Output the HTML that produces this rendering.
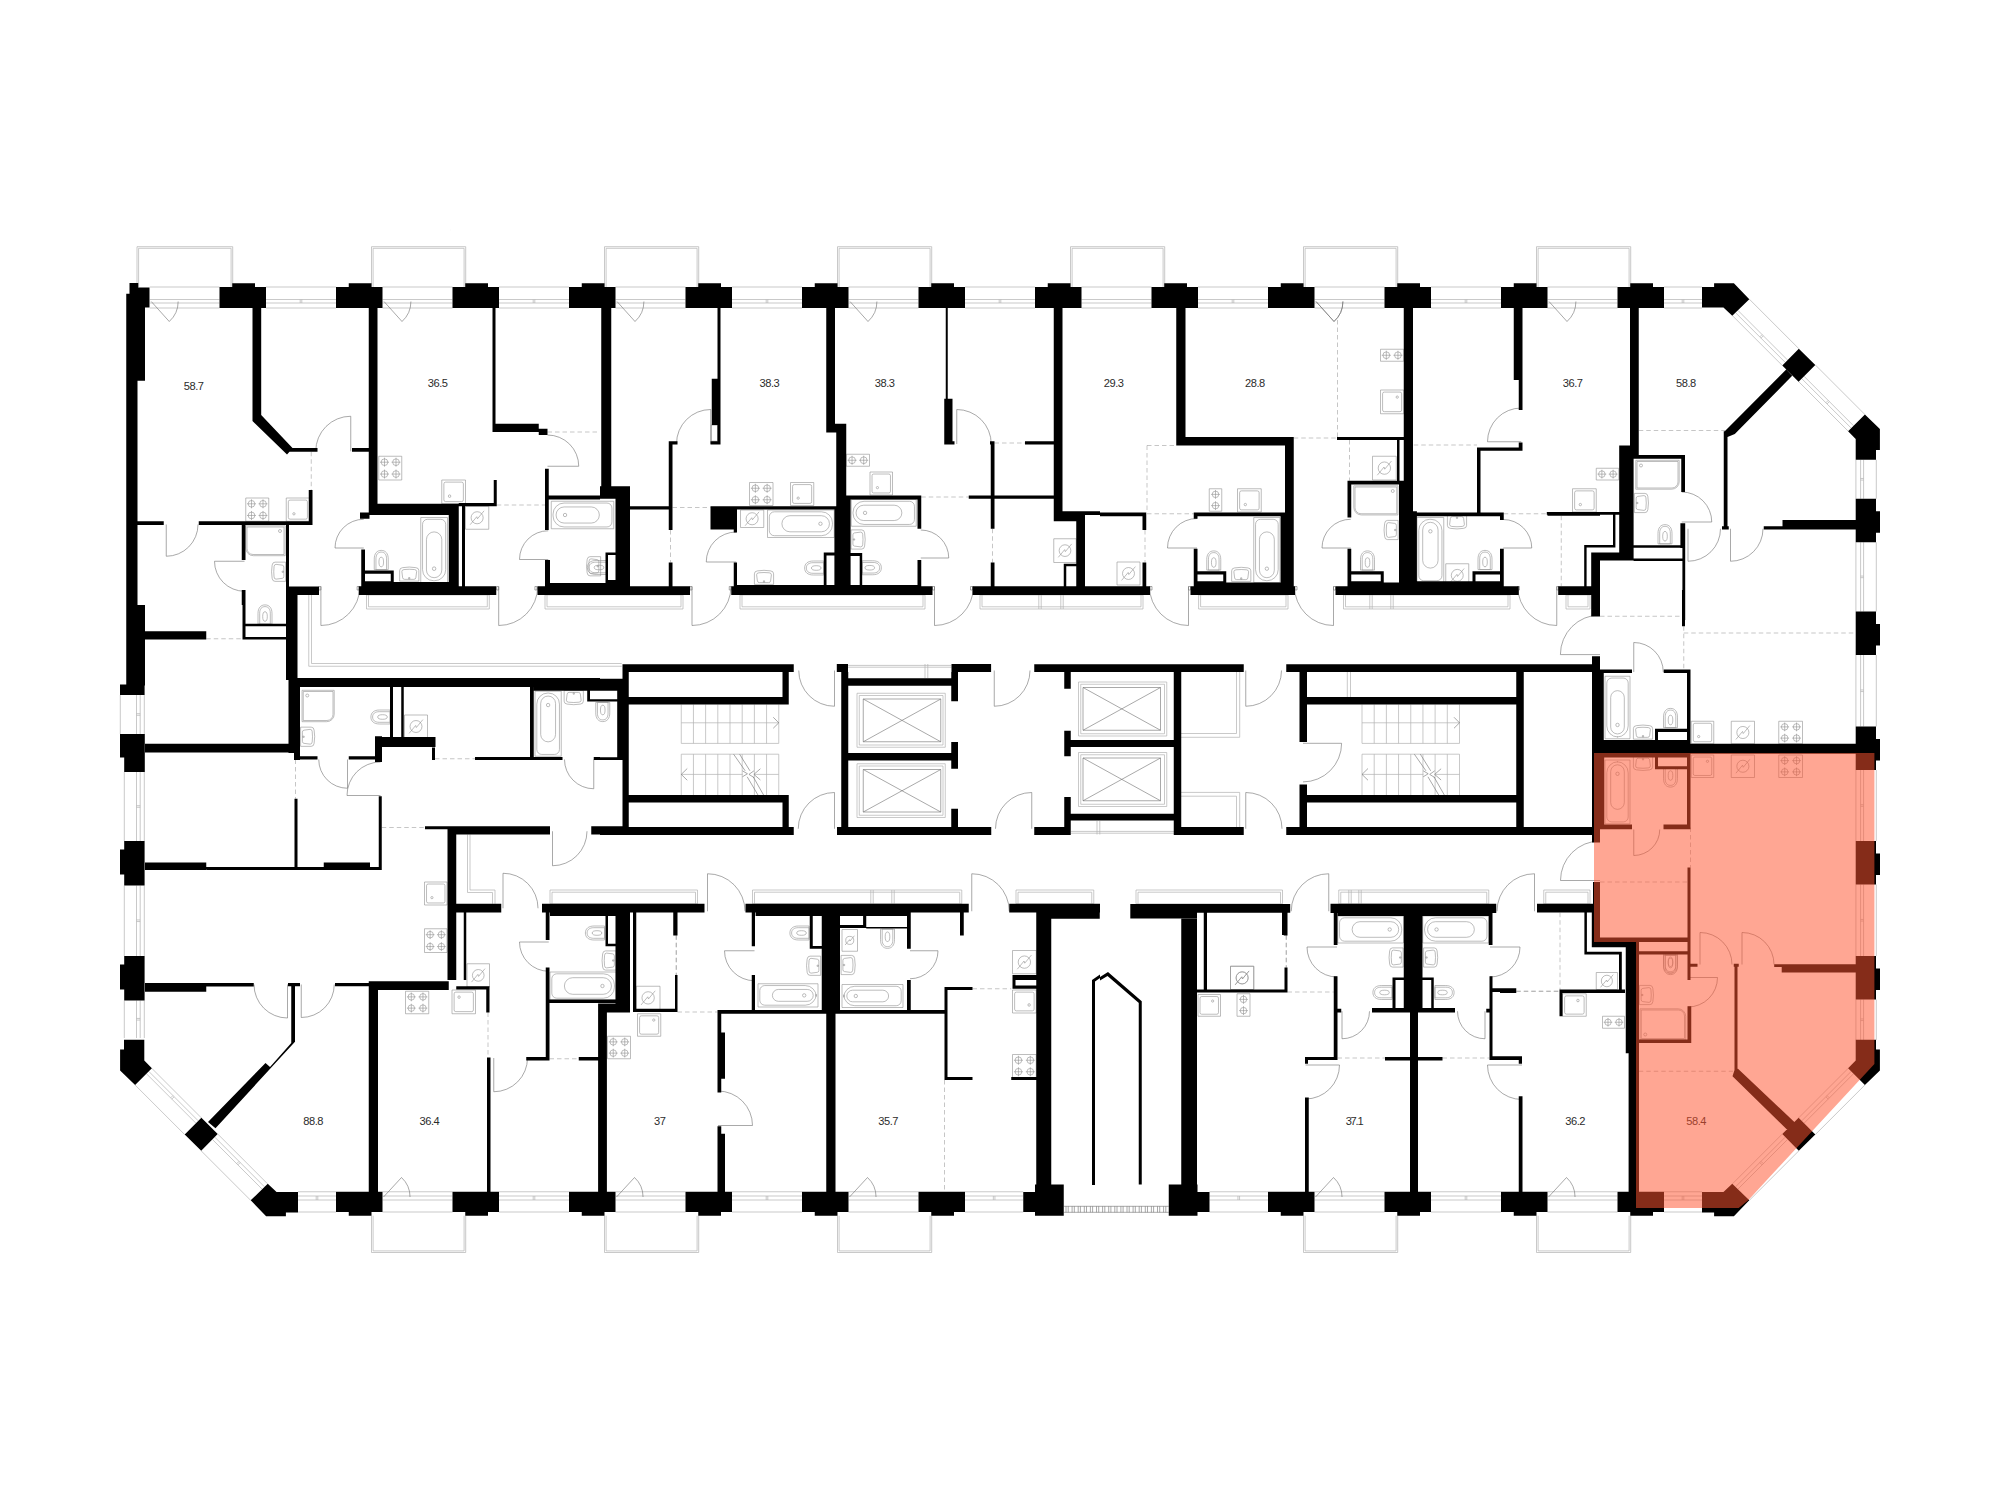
<!DOCTYPE html>
<html><head><meta charset="utf-8"><title>Floor plan</title>
<style>
html,body{margin:0;padding:0;background:#fff}
svg{display:block}
text{font-family:"Liberation Sans",sans-serif;font-size:11.1px;letter-spacing:-.4px}
.fx path{fill:none;stroke:#909090;stroke-width:.6}
</style></head><body>
<svg width="2000" height="1500" viewBox="0 0 2000 1500">
<rect width="2000" height="1500" fill="#fff"/>
<path d="M308.75 595L308.75 666.25L621.75 666.25M311.5 595L311.5 663.5L621.75 663.5M467.5 834.5L467.5 892.5L492.5 892.5L492.5 903.75M470 834.5L470 890L495 890L495 903.75M848 665.4L951.5 665.4M848 667.2L951.5 667.2M925 664L925 678M927.8 664L927.8 678M1070.8 833.2L1174.1 833.2M1070.8 831.4L1174.1 831.4M1097 821L1097 834.5M1099.8 821L1099.8 834.5M681.25 704.5L681.25 743.4M693.44 704.5L693.44 743.4M705.62 704.5L705.62 743.4M717.81 704.5L717.81 743.4M730 704.5L730 743.4M742.19 704.5L742.19 743.4M754.38 704.5L754.38 743.4M766.56 704.5L766.56 743.4M778.75 704.5L778.75 743.4M681.25 743.4L778.75 743.4M681.25 722.8L778.75 722.8M681.25 754.2L681.25 795M693.44 754.2L693.44 795M705.62 754.2L705.62 795M717.81 754.2L717.81 795M730 754.2L730 795M742.19 754.2L742.19 795M754.38 754.2L754.38 795M766.56 754.2L766.56 795M778.75 754.2L778.75 795M681.25 754.2L778.75 754.2M681.25 774.4L742.69 774.4M754.38 774.4L778.75 774.4M857 693.25H945.25V747.25H857ZM859.25 695.5H943V745H859.25ZM857 763.75H945.25V817.5H857ZM859.25 766H943V815.25H859.25ZM1078.5 682H1166.75V736H1078.5ZM1080.75 684.25H1164.5V733.75H1080.75ZM1078.5 752.5H1166.75V806.5H1078.5ZM1080.75 754.75H1164.5V804.25H1080.75ZM1181 733.5L1236.5 733.5L1236.5 672M1181 737.3L1239.7 737.3L1239.7 672M1181 796.2L1236.5 796.2L1236.5 827.2M1181 792.4L1239.7 792.4L1239.7 827.2M1347.3 672L1347.3 697M1350.5 672L1350.5 697M1362 704.5L1362 743.4M1374.19 704.5L1374.19 743.4M1386.38 704.5L1386.38 743.4M1398.56 704.5L1398.56 743.4M1410.75 704.5L1410.75 743.4M1422.94 704.5L1422.94 743.4M1435.12 704.5L1435.12 743.4M1447.31 704.5L1447.31 743.4M1459.5 704.5L1459.5 743.4M1362 743.4L1459.5 743.4M1362 722.8L1459.5 722.8M1362 754.2L1362 795M1374.19 754.2L1374.19 795M1386.38 754.2L1386.38 795M1398.56 754.2L1398.56 795M1410.75 754.2L1410.75 795M1422.94 754.2L1422.94 795M1435.12 754.2L1435.12 795M1447.31 754.2L1447.31 795M1459.5 754.2L1459.5 795M1362 754.2L1459.5 754.2M1362 774.4L1423.44 774.4M1435.12 774.4L1459.5 774.4M137 287L137 246.7L232.7 246.7L232.7 287M138.6 287L138.6 248.3L231.1 248.3L231.1 287M371.5 287L371.5 246.7L465.7 246.7L465.7 287M373.1 287L373.1 248.3L464.1 248.3L464.1 287M604.5 287L604.5 246.7L698.7 246.7L698.7 287M606.1 287L606.1 248.3L697.1 248.3L697.1 287M837.5 287L837.5 246.7L931.7 246.7L931.7 287M839.1 287L839.1 248.3L930.1 248.3L930.1 287M1070.5 287L1070.5 246.7L1164.7 246.7L1164.7 287M1072.1 287L1072.1 248.3L1163.1 248.3L1163.1 287M1303.5 287L1303.5 246.7L1397.7 246.7L1397.7 287M1305.1 287L1305.1 248.3L1396.1 248.3L1396.1 287M1536.5 287L1536.5 246.7L1630.7 246.7L1630.7 287M1538.1 287L1538.1 248.3L1629.1 248.3L1629.1 287M371.5 1215.75L371.5 1252.5L465.7 1252.5L465.7 1215.75M373.1 1215.75L373.1 1250.9L464.1 1250.9L464.1 1215.75M604.5 1215.75L604.5 1252.5L698.7 1252.5L698.7 1215.75M606.1 1215.75L606.1 1250.9L697.1 1250.9L697.1 1215.75M837.5 1215.75L837.5 1252.5L931.7 1252.5L931.7 1215.75M839.1 1215.75L839.1 1250.9L930.1 1250.9L930.1 1215.75M1303.5 1215.75L1303.5 1252.5L1397.7 1252.5L1397.7 1215.75M1305.1 1215.75L1305.1 1250.9L1396.1 1250.9L1396.1 1215.75M1536.5 1215.75L1536.5 1252.5L1630.7 1252.5L1630.7 1215.75M1538.1 1215.75L1538.1 1250.9L1629.1 1250.9L1629.1 1215.75M149.75 287L219.5 287M149.75 299.5L219.5 299.5M149.75 303L219.5 303M149.75 308L219.5 308M266 287L336 287M266 299.5L336 299.5M266 303L336 303M266 308L336 308M300.2 299.5L300.2 303M301.8 299.5L301.8 303M382.5 287L452.5 287M382.5 299.5L452.5 299.5M382.5 303L452.5 303M382.5 308L452.5 308M499 287L569 287M499 299.5L569 299.5M499 303L569 303M499 308L569 308M533.2 299.5L533.2 303M534.8 299.5L534.8 303M615.5 287L685.5 287M615.5 299.5L685.5 299.5M615.5 303L685.5 303M615.5 308L685.5 308M732 287L802 287M732 299.5L802 299.5M732 303L802 303M732 308L802 308M766.2 299.5L766.2 303M767.8 299.5L767.8 303M848.5 287L918.5 287M848.5 299.5L918.5 299.5M848.5 303L918.5 303M848.5 308L918.5 308M965 287L1035 287M965 299.5L1035 299.5M965 303L1035 303M965 308L1035 308M999.2 299.5L999.2 303M1000.8 299.5L1000.8 303M1081.5 287L1151.5 287M1081.5 299.5L1151.5 299.5M1081.5 303L1151.5 303M1081.5 308L1151.5 308M1198 287L1268 287M1198 299.5L1268 299.5M1198 303L1268 303M1198 308L1268 308M1232.2 299.5L1232.2 303M1233.8 299.5L1233.8 303M1314.5 287L1384.5 287M1314.5 299.5L1384.5 299.5M1314.5 303L1384.5 303M1314.5 308L1384.5 308M1431 287L1501 287M1431 299.5L1501 299.5M1431 303L1501 303M1431 308L1501 308M1465.2 299.5L1465.2 303M1466.8 299.5L1466.8 303M1547.5 287L1617.5 287M1547.5 299.5L1617.5 299.5M1547.5 303L1617.5 303M1547.5 308L1617.5 308M1664 287L1702 287M1664 299.5L1702 299.5M1664 303L1702 303M1664 308L1702 308M1682.2 299.5L1682.2 303M1683.8 299.5L1683.8 303M298 1191.75L336 1191.75M298 1196L336 1196M298 1200L336 1200M298 1212L336 1212M316.2 1196L316.2 1200M317.8 1196L317.8 1200M382.5 1191.75L452.5 1191.75M382.5 1196L452.5 1196M382.5 1200L452.5 1200M382.5 1212L452.5 1212M499 1191.75L569 1191.75M499 1196L569 1196M499 1200L569 1200M499 1212L569 1212M533.2 1196L533.2 1200M534.8 1196L534.8 1200M615.5 1191.75L685.5 1191.75M615.5 1196L685.5 1196M615.5 1200L685.5 1200M615.5 1212L685.5 1212M732 1191.75L802 1191.75M732 1196L802 1196M732 1200L802 1200M732 1212L802 1212M766.2 1196L766.2 1200M767.8 1196L767.8 1200M848.5 1191.75L918.5 1191.75M848.5 1196L918.5 1196M848.5 1200L918.5 1200M848.5 1212L918.5 1212M965 1191.75L1023.25 1191.75M965 1196L1023.25 1196M965 1200L1023.25 1200M965 1212L1023.25 1212M993.33 1196L993.33 1200M994.93 1196L994.93 1200M1209.5 1191.75L1268 1191.75M1209.5 1196L1268 1196M1209.5 1200L1268 1200M1209.5 1212L1268 1212M1237.95 1196L1237.95 1200M1239.55 1196L1239.55 1200M1314.5 1191.75L1384.5 1191.75M1314.5 1196L1384.5 1196M1314.5 1200L1384.5 1200M1314.5 1212L1384.5 1212M1431 1191.75L1501 1191.75M1431 1196L1501 1196M1431 1200L1501 1200M1431 1212L1501 1212M1465.2 1196L1465.2 1200M1466.8 1196L1466.8 1200M1547.5 1191.75L1617.5 1191.75M1547.5 1196L1617.5 1196M1547.5 1200L1617.5 1200M1547.5 1212L1617.5 1212M1664 1191.75L1702 1191.75M1664 1196L1702 1196M1664 1200L1702 1200M1664 1212L1702 1212M1682.2 1196L1682.2 1200M1683.8 1196L1683.8 1200M1855.9 459.8L1855.9 498.75M1860.6 459.8L1860.6 498.75M1863.6 459.8L1863.6 498.75M1876.3 459.8L1876.3 498.75M1860.6 478.47L1863.6 478.47M1860.6 480.07L1863.6 480.07M1855.9 542.25L1855.9 611.5M1860.6 542.25L1860.6 611.5M1863.6 542.25L1863.6 611.5M1876.3 542.25L1876.3 611.5M1860.6 576.08L1863.6 576.08M1860.6 577.67L1863.6 577.67M1855.9 655L1855.9 726.5M1860.6 655L1860.6 726.5M1863.6 655L1863.6 726.5M1876.3 655L1876.3 726.5M1860.6 689.95L1863.6 689.95M1860.6 691.55L1863.6 691.55M1855.9 770L1855.9 841M1860.6 770L1860.6 841M1863.6 770L1863.6 841M1876.3 770L1876.3 841M1860.6 804.7L1863.6 804.7M1860.6 806.3L1863.6 806.3M1855.9 884.5L1855.9 956M1860.6 884.5L1860.6 956M1863.6 884.5L1863.6 956M1876.3 884.5L1876.3 956M1860.6 919.45L1863.6 919.45M1860.6 921.05L1863.6 921.05M1855.9 999.5L1855.9 1040M1860.6 999.5L1860.6 1040M1863.6 999.5L1863.6 1040M1876.3 999.5L1876.3 1040M1860.6 1018.95L1863.6 1018.95M1860.6 1020.55L1863.6 1020.55M120.3 695L120.3 734M136.5 695L136.5 734M140.2 695L140.2 734M144.3 695L144.3 734M136.5 713.7L140.2 713.7M136.5 715.3L140.2 715.3M124.3 772L124.3 841M136.5 772L136.5 841M140.2 772L140.2 841M144.3 772L144.3 841M136.5 805.7L140.2 805.7M136.5 807.3L140.2 807.3M124.3 885.5L124.3 956M136.5 885.5L136.5 956M140.2 885.5L140.2 956M144.3 885.5L144.3 956M136.5 919.95L140.2 919.95M136.5 921.55L140.2 921.55M124.3 1000.5L124.3 1038M136.5 1000.5L136.5 1038M140.2 1000.5L140.2 1038M144.3 1000.5L144.3 1038M136.5 1018.45L140.2 1018.45M136.5 1020.05L140.2 1020.05M1749.3 299.15L1798.8 348.65M1737.99 310.46L1787.49 359.96M1735.65 312.8L1785.15 362.3M1732.61 315.84L1782.11 365.34M1762.14 334.61L1759.8 336.95M1763.34 335.81L1761 338.15M1815.3 364.9L1864.9 414.5M1803.99 376.21L1853.59 425.81M1801.65 378.55L1851.25 428.15M1798.61 381.59L1848.21 431.19M1828.19 400.41L1825.85 402.75M1829.39 401.61L1827.05 403.95M1749.3 1200.35L1798.8 1150.85M1737.99 1189.04L1787.49 1139.54M1735.65 1186.7L1785.15 1137.2M1732.61 1183.66L1782.11 1134.16M1762.14 1164.89L1759.8 1162.55M1763.34 1163.69L1761 1161.35M1815.3 1134.6L1864.9 1085M1803.99 1123.29L1853.59 1073.69M1801.65 1120.95L1851.25 1071.35M1798.61 1117.91L1848.21 1068.31M1828.19 1099.09L1825.85 1096.75M1829.39 1097.89L1827.05 1095.55M250.7 1200.35L201.2 1150.85M262.01 1189.04L212.51 1139.54M264.35 1186.7L214.85 1137.2M267.39 1183.66L217.89 1134.16M237.86 1164.89L240.2 1162.55M236.66 1163.69L239 1161.35M184.7 1134.6L135.1 1085M196.01 1123.29L146.41 1073.69M198.35 1120.95L148.75 1071.35M201.39 1117.91L151.79 1068.31M171.81 1099.09L174.15 1096.75M170.61 1097.89L172.95 1095.55M366.5 595H489.3V609H366.5ZM368.5 595L368.5 606.8L487.3 606.8L487.3 595M545 595H683V609H545ZM547 595L547 606.8L681 606.8L681 595M740 595H925V609H740ZM742 595L742 606.8L923 606.8L923 595M980 595H1143V609H980ZM982 595L982 606.8L1141 606.8L1141 595M1038.8 595L1038.8 609M1041.2 595L1041.2 609M1060.8 595L1060.8 609M1063.2 595L1063.2 609M1198.6 595H1288V609H1198.6ZM1200.6 595L1200.6 606.8L1286 606.8L1286 595M1343.5 595H1510V609H1343.5ZM1345.5 595L1345.5 606.8L1508 606.8L1508 595M1369.8 595L1369.8 609M1372.2 595L1372.2 609M1390.8 595L1390.8 609M1393.2 595L1393.2 609M1566 595H1590V609H1566ZM1568 595L1568 606.8L1588 606.8L1588 595M550 890H697.5V903.75H550ZM552 903.75L552 892.2L695.5 892.2L695.5 903.75M752.5 890H961.75V903.75H752.5ZM754.5 903.75L754.5 892.2L959.75 892.2L959.75 903.75M870.8 890L870.8 903.75M873.2 890L873.2 903.75M891.8 890L891.8 903.75M894.2 890L894.2 903.75M1016 890H1093.75V903.75H1016ZM1018 903.75L1018 892.2L1091.75 892.2L1091.75 903.75M1136 890H1282.5V903.75H1136ZM1138 903.75L1138 892.2L1280.5 892.2L1280.5 903.75M1338.75 890H1488.75V903.75H1338.75ZM1340.75 903.75L1340.75 892.2L1486.75 892.2L1486.75 903.75M1348.8 890L1348.8 903.75M1351.2 890L1351.2 903.75M1358.8 890L1358.8 903.75M1361.2 890L1361.2 903.75M1543.75 890H1590V903.75H1543.75ZM1545.75 903.75L1545.75 892.2L1588 892.2L1588 903.75" fill="none" stroke="#b2b2b2" stroke-width=".7"/>
<path d="M378.75 456.25H401.75V480H378.75ZM381.17 462.19A3.33 3.33 0 1 0 387.83 462.19A3.33 3.33 0 1 0 381.17 462.19ZM380 462.19L389 462.19M384.5 457.69L384.5 466.69M381.17 474.06A3.33 3.33 0 1 0 387.83 474.06A3.33 3.33 0 1 0 381.17 474.06ZM380 474.06L389 474.06M384.5 469.56L384.5 478.56M392.67 462.19A3.33 3.33 0 1 0 399.33 462.19A3.33 3.33 0 1 0 392.67 462.19ZM391.5 462.19L400.5 462.19M396 457.69L396 466.69M392.67 474.06A3.33 3.33 0 1 0 399.33 474.06A3.33 3.33 0 1 0 392.67 474.06ZM391.5 474.06L400.5 474.06M396 469.56L396 478.56M441.75 480H465.5V503.75H441.75ZM445.6 482.14H461.65A1.71 1.71 0 0 1 463.36 483.85V499.9A1.71 1.71 0 0 1 461.65 501.61H445.6A1.71 1.71 0 0 1 443.89 499.9V483.85A1.71 1.71 0 0 1 445.6 482.14ZM448.4 496.15A1.19 1.19 0 1 0 450.77 496.15A1.19 1.19 0 1 0 448.4 496.15ZM465.5 506.25H488.75V529.25H465.5ZM471.08 517.75A6.04 6.04 0 1 0 483.17 517.75A6.04 6.04 0 1 0 471.08 517.75ZM470.17 524.7L476.78 516.71L477.47 518.79L484.08 510.8M420.75 517.5H447.5V582.5H420.75ZM427.55 519.3H440.7A5 5 0 0 1 445.7 524.3V569.7A11 11 0 0 1 434.7 580.7H433.55A11 11 0 0 1 422.55 569.7V524.3A5 5 0 0 1 427.55 519.3ZM434.12 531.9H434.12A7.67 7.67 0 0 1 441.8 539.57V570.03A7.67 7.67 0 0 1 434.12 577.7H434.12A7.67 7.67 0 0 1 426.45 570.03V539.57A7.67 7.67 0 0 1 434.12 531.9ZM432.43 568.7A1.7 1.7 0 1 0 435.82 568.7A1.7 1.7 0 1 0 432.43 568.7ZM245.75 498H268.75V521.25H245.75ZM248.16 503.81A3.33 3.33 0 1 0 254.84 503.81A3.33 3.33 0 1 0 248.16 503.81ZM247 503.81L256 503.81M251.5 499.31L251.5 508.31M248.16 515.44A3.33 3.33 0 1 0 254.84 515.44A3.33 3.33 0 1 0 248.16 515.44ZM247 515.44L256 515.44M251.5 510.94L251.5 519.94M259.67 503.81A3.33 3.33 0 1 0 266.33 503.81A3.33 3.33 0 1 0 259.67 503.81ZM258.5 503.81L267.5 503.81M263 499.31L263 508.31M259.67 515.44A3.33 3.33 0 1 0 266.33 515.44A3.33 3.33 0 1 0 259.67 515.44ZM258.5 515.44L267.5 515.44M263 510.94L263 519.94M286.25 498H309.5V521.25H286.25ZM290.02 500.09H305.73A1.67 1.67 0 0 1 307.41 501.77V517.48A1.67 1.67 0 0 1 305.73 519.16H290.02A1.67 1.67 0 0 1 288.34 517.48V501.77A1.67 1.67 0 0 1 290.02 500.09ZM292.76 513.81A1.16 1.16 0 1 0 295.09 513.81A1.16 1.16 0 1 0 292.76 513.81ZM245.8 525.8H285.2V555.7H253.3A7.5 7.5 0 0 1 245.8 548.2ZM247 527H284V554.5H253A6 6 0 0 1 247 548.5ZM278.5 531A1.5 1.5 0 1 0 281.5 531A1.5 1.5 0 1 0 278.5 531ZM551.25 501.25H613.75V528.75H551.25ZM564.05 503.05H606.95A5 5 0 0 1 611.95 508.05V521.95A5 5 0 0 1 606.95 526.95H564.05A11 11 0 0 1 553.05 515.95V514.05A11 11 0 0 1 564.05 503.05ZM564.1 506.95H591.3A8.05 8.05 0 0 1 599.35 515V515A8.05 8.05 0 0 1 591.3 523.05H564.1A8.05 8.05 0 0 1 556.05 515V515A8.05 8.05 0 0 1 564.1 506.95ZM563.35 515A1.7 1.7 0 1 0 566.75 515A1.7 1.7 0 1 0 563.35 515ZM749.5 482.5H773V505.5H749.5ZM752.04 488.25A3.33 3.33 0 1 0 758.71 488.25A3.33 3.33 0 1 0 752.04 488.25ZM750.87 488.25L759.88 488.25M755.38 483.75L755.38 492.75M752.04 499.75A3.33 3.33 0 1 0 758.71 499.75A3.33 3.33 0 1 0 752.04 499.75ZM750.87 499.75L759.88 499.75M755.38 495.25L755.38 504.25M763.79 488.25A3.33 3.33 0 1 0 770.46 488.25A3.33 3.33 0 1 0 763.79 488.25ZM762.62 488.25L771.63 488.25M767.12 483.75L767.12 492.75M763.79 499.75A3.33 3.33 0 1 0 770.46 499.75A3.33 3.33 0 1 0 763.79 499.75ZM762.62 499.75L771.63 499.75M767.12 495.25L767.12 504.25M790.5 482.5H813.75V505.5H790.5ZM794.27 484.59H809.98A1.67 1.67 0 0 1 811.66 486.27V501.73A1.67 1.67 0 0 1 809.98 503.41H794.27A1.67 1.67 0 0 1 792.59 501.73V486.27A1.67 1.67 0 0 1 794.27 484.59ZM797.01 498.14A1.16 1.16 0 1 0 799.34 498.14A1.16 1.16 0 1 0 797.01 498.14ZM740.5 510H763.75V527.5H740.5ZM746.08 518.75A6.04 6.04 0 1 0 758.17 518.75A6.04 6.04 0 1 0 746.08 518.75ZM745.17 525.7L751.78 517.71L752.47 519.79L759.08 511.8M767.5 510H834.25V537.5H767.5ZM774.3 511.8H821.45A11 11 0 0 1 832.45 522.8V524.7A11 11 0 0 1 821.45 535.7H774.3A5 5 0 0 1 769.3 530.7V516.8A5 5 0 0 1 774.3 511.8ZM789.95 515.7H821.4A8.05 8.05 0 0 1 829.45 523.75V523.75A8.05 8.05 0 0 1 821.4 531.8H789.95A8.05 8.05 0 0 1 781.9 523.75V523.75A8.05 8.05 0 0 1 789.95 515.7ZM818.75 523.75A1.7 1.7 0 1 0 822.15 523.75A1.7 1.7 0 1 0 818.75 523.75ZM846.25 454.25H869.5V466.25H846.25ZM848.69 460.25A3.37 3.37 0 1 0 855.43 460.25A3.37 3.37 0 1 0 848.69 460.25ZM847.51 460.25L856.61 460.25M852.06 455.7L852.06 464.8M860.32 460.25A3.37 3.37 0 1 0 867.06 460.25A3.37 3.37 0 1 0 860.32 460.25ZM859.14 460.25L868.24 460.25M863.69 455.7L863.69 464.8M870 472H892.5V495H870ZM873.64 474.02H888.86A1.62 1.62 0 0 1 890.48 475.64V491.36A1.62 1.62 0 0 1 888.86 492.98H873.64A1.62 1.62 0 0 1 872.02 491.36V475.64A1.62 1.62 0 0 1 873.64 474.02ZM876.3 487.64A1.12 1.12 0 1 0 878.55 487.64A1.12 1.12 0 1 0 876.3 487.64ZM851.25 499.5H916.25V526.25H851.25ZM864.05 501.3H909.45A5 5 0 0 1 914.45 506.3V519.45A5 5 0 0 1 909.45 524.45H864.05A11 11 0 0 1 853.05 513.45V512.3A11 11 0 0 1 864.05 501.3ZM863.72 505.2H894.18A7.67 7.67 0 0 1 901.85 512.88V512.88A7.67 7.67 0 0 1 894.18 520.55H863.72A7.67 7.67 0 0 1 856.05 512.88V512.88A7.67 7.67 0 0 1 863.72 505.2ZM863.35 512.88A1.7 1.7 0 1 0 866.75 512.88A1.7 1.7 0 1 0 863.35 512.88ZM1053.75 538.75H1076.25V562.5H1053.75ZM1059.15 550.62A5.85 5.85 0 1 0 1070.85 550.62A5.85 5.85 0 1 0 1059.15 550.62ZM1058.27 557.35L1064.66 549.62L1065.34 551.63L1071.73 543.9M1117 562H1140V585H1117ZM1122.52 573.5A5.98 5.98 0 1 0 1134.48 573.5A5.98 5.98 0 1 0 1122.52 573.5ZM1121.62 580.38L1128.16 572.47L1128.84 574.53L1135.38 566.62M1209.25 488.75H1221.75V511.25H1209.25ZM1212.24 494.38A3.26 3.26 0 1 0 1218.76 494.38A3.26 3.26 0 1 0 1212.24 494.38ZM1211.1 494.38L1219.9 494.38M1215.5 489.97L1215.5 498.78M1212.24 505.62A3.26 3.26 0 1 0 1218.76 505.62A3.26 3.26 0 1 0 1212.24 505.62ZM1211.1 505.62L1219.9 505.62M1215.5 501.22L1215.5 510.03M1237.5 488.75H1261.25V512H1237.5ZM1241.35 490.89H1257.4A1.71 1.71 0 0 1 1259.11 492.6V508.15A1.71 1.71 0 0 1 1257.4 509.86H1241.35A1.71 1.71 0 0 1 1239.64 508.15V492.6A1.71 1.71 0 0 1 1241.35 490.89ZM1244.15 504.56A1.19 1.19 0 1 0 1246.53 504.56A1.19 1.19 0 1 0 1244.15 504.56ZM1253.75 517.5H1280V582.5H1253.75ZM1260.55 519.3H1273.2A5 5 0 0 1 1278.2 524.3V569.7A11 11 0 0 1 1267.2 580.7H1266.55A11 11 0 0 1 1255.55 569.7V524.3A5 5 0 0 1 1260.55 519.3ZM1266.88 531.9H1266.88A7.42 7.42 0 0 1 1274.3 539.32V570.28A7.42 7.42 0 0 1 1266.88 577.7H1266.88A7.42 7.42 0 0 1 1259.45 570.28V539.32A7.42 7.42 0 0 1 1266.88 531.9ZM1265.17 568.7A1.7 1.7 0 1 0 1268.58 568.7A1.7 1.7 0 1 0 1265.17 568.7ZM1380.5 349.25H1403.75V361.25H1380.5ZM1382.94 355.25A3.37 3.37 0 1 0 1389.68 355.25A3.37 3.37 0 1 0 1382.94 355.25ZM1381.76 355.25L1390.86 355.25M1386.31 350.7L1386.31 359.8M1394.57 355.25A3.37 3.37 0 1 0 1401.31 355.25A3.37 3.37 0 1 0 1394.57 355.25ZM1393.39 355.25L1402.49 355.25M1397.94 350.7L1397.94 359.8M1380.5 390H1403.75V413.75H1380.5ZM1384.27 392.09H1399.98A1.67 1.67 0 0 1 1401.66 393.77V409.98A1.67 1.67 0 0 1 1399.98 411.66H1384.27A1.67 1.67 0 0 1 1382.59 409.98V393.77A1.67 1.67 0 0 1 1384.27 392.09ZM1396.08 397.12A1.16 1.16 0 1 0 1398.4 397.12A1.16 1.16 0 1 0 1396.08 397.12ZM1372.5 456.25H1396.25V480H1372.5ZM1378.2 468.12A6.17 6.17 0 1 0 1390.55 468.12A6.17 6.17 0 1 0 1378.2 468.12ZM1377.27 475.23L1384.02 467.06L1384.73 469.19L1391.48 461.02M1353.8 485.8H1397.95V514.95H1361.3A7.5 7.5 0 0 1 1353.8 507.45ZM1355 487H1396.75V513.75H1361A6 6 0 0 1 1355 507.75ZM1391.25 491A1.5 1.5 0 1 0 1394.25 491A1.5 1.5 0 1 0 1391.25 491ZM1417 517.5H1443.75V582.5H1417ZM1429.8 519.3H1430.95A11 11 0 0 1 1441.95 530.3V575.7A5 5 0 0 1 1436.95 580.7H1423.8A5 5 0 0 1 1418.8 575.7V530.3A11 11 0 0 1 1429.8 519.3ZM1430.38 522.3H1430.38A7.67 7.67 0 0 1 1438.05 529.97V560.43A7.67 7.67 0 0 1 1430.38 568.1H1430.38A7.67 7.67 0 0 1 1422.7 560.43V529.97A7.67 7.67 0 0 1 1430.38 522.3ZM1428.67 531.3A1.7 1.7 0 1 0 1432.08 531.3A1.7 1.7 0 1 0 1428.67 531.3ZM1445.75 563.75H1468.75V587H1445.75ZM1451.27 575.38A5.98 5.98 0 1 0 1463.23 575.38A5.98 5.98 0 1 0 1451.27 575.38ZM1450.37 582.25L1456.91 574.34L1457.59 576.41L1464.13 568.5M1596.25 468.25H1618.75V480H1596.25ZM1598.61 474.12A3.26 3.26 0 1 0 1605.14 474.12A3.26 3.26 0 1 0 1598.61 474.12ZM1597.47 474.12L1606.28 474.12M1601.88 469.72L1601.88 478.53M1609.86 474.12A3.26 3.26 0 1 0 1616.39 474.12A3.26 3.26 0 1 0 1609.86 474.12ZM1608.72 474.12L1617.53 474.12M1613.12 469.72L1613.12 478.53M1572.5 488.75H1596.25V512H1572.5ZM1576.35 490.89H1592.4A1.71 1.71 0 0 1 1594.11 492.6V508.15A1.71 1.71 0 0 1 1592.4 509.86H1576.35A1.71 1.71 0 0 1 1574.64 508.15V492.6A1.71 1.71 0 0 1 1576.35 490.89ZM1579.15 504.56A1.19 1.19 0 1 0 1581.53 504.56A1.19 1.19 0 1 0 1579.15 504.56ZM1635.8 460.3H1679.2V481.7A7.5 7.5 0 0 1 1671.7 489.2H1635.8ZM1637 461.5H1678V482A6 6 0 0 1 1672 488H1637ZM1639.5 465.5A1.5 1.5 0 1 0 1642.5 465.5A1.5 1.5 0 1 0 1639.5 465.5ZM302.05 690.3H334.2V714.2A7.5 7.5 0 0 1 326.7 721.7H302.05ZM303.25 691.5H333V714.5A6 6 0 0 1 327 720.5H303.25ZM305.75 695.5A1.5 1.5 0 1 0 308.75 695.5A1.5 1.5 0 1 0 305.75 695.5ZM404.5 715H427.5V738H404.5ZM410.02 726.5A5.98 5.98 0 1 0 421.98 726.5A5.98 5.98 0 1 0 410.02 726.5ZM409.12 733.38L415.66 725.47L416.34 727.53L422.88 719.62M535 691.25H561.25V756.25H535ZM547.8 693.05H548.45A11 11 0 0 1 559.45 704.05V749.45A5 5 0 0 1 554.45 754.45H541.8A5 5 0 0 1 536.8 749.45V704.05A11 11 0 0 1 547.8 693.05ZM548.12 696.05H548.12A7.42 7.42 0 0 1 555.55 703.47V734.43A7.42 7.42 0 0 1 548.12 741.85H548.12A7.42 7.42 0 0 1 540.7 734.43V703.47A7.42 7.42 0 0 1 548.12 696.05ZM546.42 705.05A1.7 1.7 0 1 0 549.83 705.05A1.7 1.7 0 1 0 546.42 705.05ZM424.5 882H447V905H424.5ZM428.14 884.02H443.36A1.62 1.62 0 0 1 444.98 885.64V901.36A1.62 1.62 0 0 1 443.36 902.98H428.14A1.62 1.62 0 0 1 426.52 901.36V885.64A1.62 1.62 0 0 1 428.14 884.02ZM430.8 897.64A1.12 1.12 0 1 0 433.05 897.64A1.12 1.12 0 1 0 430.8 897.64ZM424.5 928.75H447V952.5H424.5ZM426.86 934.69A3.26 3.26 0 1 0 433.39 934.69A3.26 3.26 0 1 0 426.86 934.69ZM425.72 934.69L434.53 934.69M430.12 930.28L430.12 939.09M426.86 946.56A3.26 3.26 0 1 0 433.39 946.56A3.26 3.26 0 1 0 426.86 946.56ZM425.72 946.56L434.53 946.56M430.12 942.16L430.12 950.97M438.11 934.69A3.26 3.26 0 1 0 444.64 934.69A3.26 3.26 0 1 0 438.11 934.69ZM436.97 934.69L445.78 934.69M441.38 930.28L441.38 939.09M438.11 946.56A3.26 3.26 0 1 0 444.64 946.56A3.26 3.26 0 1 0 438.11 946.56ZM436.97 946.56L445.78 946.56M441.38 942.16L441.38 950.97M467 963.75H489.5V987H467ZM472.4 975.38A5.85 5.85 0 1 0 484.1 975.38A5.85 5.85 0 1 0 472.4 975.38ZM471.52 982.1L477.91 974.37L478.59 976.38L484.98 968.65M842 929.5H857.5V951.25H842ZM845.72 940.38A4.03 4.03 0 1 0 853.78 940.38A4.03 4.03 0 1 0 845.72 940.38ZM845.12 945.01L849.52 939.68L849.98 941.07L854.38 935.74M1012.5 950.5H1036.25V973.75H1012.5ZM1018.2 962.12A6.17 6.17 0 1 0 1030.55 962.12A6.17 6.17 0 1 0 1018.2 962.12ZM1017.27 969.23L1024.02 961.06L1024.73 963.19L1031.48 955.02M1337.75 916H1403.5V943H1337.75ZM1344.55 917.8H1390.7A11 11 0 0 1 1401.7 928.8V930.2A11 11 0 0 1 1390.7 941.2H1344.55A5 5 0 0 1 1339.55 936.2V922.8A5 5 0 0 1 1344.55 917.8ZM1359.95 921.7H1390.9A7.8 7.8 0 0 1 1398.7 929.5V929.5A7.8 7.8 0 0 1 1390.9 937.3H1359.95A7.8 7.8 0 0 1 1352.15 929.5V929.5A7.8 7.8 0 0 1 1359.95 921.7ZM1388 929.5A1.7 1.7 0 1 0 1391.4 929.5A1.7 1.7 0 1 0 1388 929.5ZM1422.75 916H1488.75V943H1422.75ZM1435.55 917.8H1481.95A5 5 0 0 1 1486.95 922.8V936.2A5 5 0 0 1 1481.95 941.2H1435.55A11 11 0 0 1 1424.55 930.2V928.8A11 11 0 0 1 1435.55 917.8ZM1435.35 921.7H1466.55A7.8 7.8 0 0 1 1474.35 929.5V929.5A7.8 7.8 0 0 1 1466.55 937.3H1435.35A7.8 7.8 0 0 1 1427.55 929.5V929.5A7.8 7.8 0 0 1 1435.35 921.7ZM1434.85 929.5A1.7 1.7 0 1 0 1438.25 929.5A1.7 1.7 0 1 0 1434.85 929.5ZM1230.5 966.25H1253.75V989.5H1230.5ZM1236.08 977.88A6.04 6.04 0 1 0 1248.17 977.88A6.04 6.04 0 1 0 1236.08 977.88ZM1235.17 984.83L1241.78 976.83L1242.47 978.92L1249.08 970.92M1605 676.25H1630V738.75H1605ZM1611.8 678.05H1623.2A5 5 0 0 1 1628.2 683.05V725.95A11 11 0 0 1 1617.2 736.95H1617.8A11 11 0 0 1 1606.8 725.95V683.05A5 5 0 0 1 1611.8 678.05ZM1617.5 690.65H1617.5A6.8 6.8 0 0 1 1624.3 697.45V727.15A6.8 6.8 0 0 1 1617.5 733.95H1617.5A6.8 6.8 0 0 1 1610.7 727.15V697.45A6.8 6.8 0 0 1 1617.5 690.65ZM1615.8 724.95A1.7 1.7 0 1 0 1619.2 724.95A1.7 1.7 0 1 0 1615.8 724.95ZM1691.25 721.25H1713.75V743.75H1691.25ZM1694.89 723.27H1710.11A1.62 1.62 0 0 1 1711.72 724.89V740.11A1.62 1.62 0 0 1 1710.11 741.73H1694.89A1.62 1.62 0 0 1 1693.28 740.11V724.89A1.62 1.62 0 0 1 1694.89 723.27ZM1697.55 736.55A1.12 1.12 0 1 0 1699.8 736.55A1.12 1.12 0 1 0 1697.55 736.55ZM1731.25 721.25H1754.5V743.75H1731.25ZM1736.83 732.5A6.04 6.04 0 1 0 1748.92 732.5A6.04 6.04 0 1 0 1736.83 732.5ZM1735.92 739.45L1742.53 731.46L1743.22 733.54L1749.83 725.55M1778.75 721.25H1802.5V743.75H1778.75ZM1781.42 726.88A3.26 3.26 0 1 0 1787.95 726.88A3.26 3.26 0 1 0 1781.42 726.88ZM1780.28 726.88L1789.09 726.88M1784.69 722.47L1784.69 731.28M1781.42 738.12A3.26 3.26 0 1 0 1787.95 738.12A3.26 3.26 0 1 0 1781.42 738.12ZM1780.28 738.12L1789.09 738.12M1784.69 733.72L1784.69 742.53M1793.3 726.88A3.26 3.26 0 1 0 1799.83 726.88A3.26 3.26 0 1 0 1793.3 726.88ZM1792.16 726.88L1800.97 726.88M1796.56 722.47L1796.56 731.28M1793.3 738.12A3.26 3.26 0 1 0 1799.83 738.12A3.26 3.26 0 1 0 1793.3 738.12ZM1792.16 738.12L1800.97 738.12M1796.56 733.72L1796.56 742.53M1605 760H1630V823.75H1605ZM1617.8 761.8H1617.2A11 11 0 0 1 1628.2 772.8V816.95A5 5 0 0 1 1623.2 821.95H1611.8A5 5 0 0 1 1606.8 816.95V772.8A11 11 0 0 1 1617.8 761.8ZM1617.5 764.8H1617.5A6.8 6.8 0 0 1 1624.3 771.6V802.55A6.8 6.8 0 0 1 1617.5 809.35H1617.5A6.8 6.8 0 0 1 1610.7 802.55V771.6A6.8 6.8 0 0 1 1617.5 764.8ZM1615.8 773.8A1.7 1.7 0 1 0 1619.2 773.8A1.7 1.7 0 1 0 1615.8 773.8ZM1691.25 755H1713.75V777.5H1691.25ZM1694.89 757.02H1710.11A1.62 1.62 0 0 1 1711.72 758.64V773.86A1.62 1.62 0 0 1 1710.11 775.48H1694.89A1.62 1.62 0 0 1 1693.28 773.86V758.64A1.62 1.62 0 0 1 1694.89 757.02ZM1706.33 761.3A1.12 1.12 0 1 0 1708.58 761.3A1.12 1.12 0 1 0 1706.33 761.3ZM1731.25 755H1754.5V777.5H1731.25ZM1736.83 766.25A6.04 6.04 0 1 0 1748.92 766.25A6.04 6.04 0 1 0 1736.83 766.25ZM1735.92 773.2L1742.53 765.21L1743.22 767.29L1749.83 759.3M1778.75 755H1802.5V777.5H1778.75ZM1781.42 760.62A3.26 3.26 0 1 0 1787.95 760.62A3.26 3.26 0 1 0 1781.42 760.62ZM1780.28 760.62L1789.09 760.62M1784.69 756.22L1784.69 765.03M1781.42 771.88A3.26 3.26 0 1 0 1787.95 771.88A3.26 3.26 0 1 0 1781.42 771.88ZM1780.28 771.88L1789.09 771.88M1784.69 767.47L1784.69 776.28M1793.3 760.62A3.26 3.26 0 1 0 1799.83 760.62A3.26 3.26 0 1 0 1793.3 760.62ZM1792.16 760.62L1800.97 760.62M1796.56 756.22L1796.56 765.03M1793.3 771.88A3.26 3.26 0 1 0 1799.83 771.88A3.26 3.26 0 1 0 1793.3 771.88ZM1792.16 771.88L1800.97 771.88M1796.56 767.47L1796.56 776.28M405.5 991.25H428.75V1013.75H405.5ZM408.05 996.88A3.26 3.26 0 1 0 414.57 996.88A3.26 3.26 0 1 0 408.05 996.88ZM406.91 996.88L415.72 996.88M411.31 992.47L411.31 1001.28M408.05 1008.12A3.26 3.26 0 1 0 414.57 1008.12A3.26 3.26 0 1 0 408.05 1008.12ZM406.91 1008.12L415.72 1008.12M411.31 1003.72L411.31 1012.53M419.68 996.88A3.26 3.26 0 1 0 426.2 996.88A3.26 3.26 0 1 0 419.68 996.88ZM418.53 996.88L427.34 996.88M422.94 992.47L422.94 1001.28M419.68 1008.12A3.26 3.26 0 1 0 426.2 1008.12A3.26 3.26 0 1 0 419.68 1008.12ZM418.53 1008.12L427.34 1008.12M422.94 1003.72L422.94 1012.53M452 990H475.5V1013.75H452ZM455.81 992.12H471.69A1.69 1.69 0 0 1 473.38 993.81V1009.94A1.69 1.69 0 0 1 471.69 1011.63H455.81A1.69 1.69 0 0 1 454.12 1009.94V993.81A1.69 1.69 0 0 1 455.81 992.12ZM457.88 997.12A1.18 1.18 0 1 0 460.23 997.12A1.18 1.18 0 1 0 457.88 997.12ZM550 972H616.25V1000H550ZM556.8 973.8H603.45A11 11 0 0 1 614.45 984.8V987.2A11 11 0 0 1 603.45 998.2H556.8A5 5 0 0 1 551.8 993.2V978.8A5 5 0 0 1 556.8 973.8ZM572.7 977.7H603.15A8.3 8.3 0 0 1 611.45 986V986A8.3 8.3 0 0 1 603.15 994.3H572.7A8.3 8.3 0 0 1 564.4 986V986A8.3 8.3 0 0 1 572.7 977.7ZM600.75 986A1.7 1.7 0 1 0 604.15 986A1.7 1.7 0 1 0 600.75 986ZM637.5 1013.75H660.75V1036.25H637.5ZM641.27 1015.84H656.98A1.67 1.67 0 0 1 658.66 1017.52V1032.48A1.67 1.67 0 0 1 656.98 1034.16H641.27A1.67 1.67 0 0 1 639.59 1032.48V1017.52A1.67 1.67 0 0 1 641.27 1015.84ZM652.61 1020.05A1.16 1.16 0 1 0 654.94 1020.05A1.16 1.16 0 1 0 652.61 1020.05ZM607.5 1036.25H630.5V1058.75H607.5ZM609.99 1041.88A3.26 3.26 0 1 0 616.51 1041.88A3.26 3.26 0 1 0 609.99 1041.88ZM608.85 1041.88L617.65 1041.88M613.25 1037.47L613.25 1046.28M609.99 1053.12A3.26 3.26 0 1 0 616.51 1053.12A3.26 3.26 0 1 0 609.99 1053.12ZM608.85 1053.12L617.65 1053.12M613.25 1048.72L613.25 1057.53M621.49 1041.88A3.26 3.26 0 1 0 628.01 1041.88A3.26 3.26 0 1 0 621.49 1041.88ZM620.35 1041.88L629.15 1041.88M624.75 1037.47L624.75 1046.28M621.49 1053.12A3.26 3.26 0 1 0 628.01 1053.12A3.26 3.26 0 1 0 621.49 1053.12ZM620.35 1053.12L629.15 1053.12M624.75 1048.72L624.75 1057.53M636.25 986.25H660V1009.5H636.25ZM641.95 997.88A6.17 6.17 0 1 0 654.3 997.88A6.17 6.17 0 1 0 641.95 997.88ZM641.02 1004.98L647.77 996.81L648.48 998.94L655.23 990.77M758 983.75H818V1007H758ZM764.8 985.55H805.2A11 11 0 0 1 816.2 996.55V994.2A11 11 0 0 1 805.2 1005.2H764.8A5 5 0 0 1 759.8 1000.2V990.55A5 5 0 0 1 764.8 985.55ZM778.32 989.45H807.28A5.92 5.92 0 0 1 813.2 995.38V995.38A5.92 5.92 0 0 1 807.28 1001.3H778.32A5.92 5.92 0 0 1 772.4 995.38V995.38A5.92 5.92 0 0 1 778.32 989.45ZM802.5 995.38A1.7 1.7 0 1 0 805.9 995.38A1.7 1.7 0 1 0 802.5 995.38ZM842 984.5H903V1007.5H842ZM854.8 986.3H896.2A5 5 0 0 1 901.2 991.3V1000.7A5 5 0 0 1 896.2 1005.7H854.8A11 11 0 0 1 843.8 994.7V997.3A11 11 0 0 1 854.8 986.3ZM852.6 990.2H882.8A5.8 5.8 0 0 1 888.6 996V996A5.8 5.8 0 0 1 882.8 1001.8H852.6A5.8 5.8 0 0 1 846.8 996V996A5.8 5.8 0 0 1 852.6 990.2ZM854.1 996A1.7 1.7 0 1 0 857.5 996A1.7 1.7 0 1 0 854.1 996ZM1012.5 990H1036.25V1013H1012.5ZM1016.35 992.14H1032.4A1.71 1.71 0 0 1 1034.11 993.85V1009.15A1.71 1.71 0 0 1 1032.4 1010.86H1016.35A1.71 1.71 0 0 1 1014.64 1009.15V993.85A1.71 1.71 0 0 1 1016.35 992.14ZM1027.94 1004.95A1.19 1.19 0 1 0 1030.31 1004.95A1.19 1.19 0 1 0 1027.94 1004.95ZM1012.5 1054.5H1036.25V1077.5H1012.5ZM1015.1 1060.25A3.33 3.33 0 1 0 1021.77 1060.25A3.33 3.33 0 1 0 1015.1 1060.25ZM1013.94 1060.25L1022.94 1060.25M1018.44 1055.75L1018.44 1064.75M1015.1 1071.75A3.33 3.33 0 1 0 1021.77 1071.75A3.33 3.33 0 1 0 1015.1 1071.75ZM1013.94 1071.75L1022.94 1071.75M1018.44 1067.25L1018.44 1076.25M1026.98 1060.25A3.33 3.33 0 1 0 1033.65 1060.25A3.33 3.33 0 1 0 1026.98 1060.25ZM1025.81 1060.25L1034.81 1060.25M1030.31 1055.75L1030.31 1064.75M1026.98 1071.75A3.33 3.33 0 1 0 1033.65 1071.75A3.33 3.33 0 1 0 1026.98 1071.75ZM1025.81 1071.75L1034.81 1071.75M1030.31 1067.25L1030.31 1076.25M1230.5 966.25H1253.75V989.5H1230.5ZM1236.08 977.88A6.04 6.04 0 1 0 1248.17 977.88A6.04 6.04 0 1 0 1236.08 977.88ZM1235.17 984.83L1241.78 976.83L1242.47 978.92L1249.08 970.92M1198 994.5H1220.5V1016.25H1198ZM1201.64 996.52H1216.86A1.62 1.62 0 0 1 1218.47 998.14V1012.61A1.62 1.62 0 0 1 1216.86 1014.23H1201.64A1.62 1.62 0 0 1 1200.03 1012.61V998.14A1.62 1.62 0 0 1 1201.64 996.52ZM1211.5 1001.02A1.12 1.12 0 1 0 1213.75 1001.02A1.12 1.12 0 1 0 1211.5 1001.02ZM1237 993.75H1250V1016.25H1237ZM1240.24 999.38A3.26 3.26 0 1 0 1246.76 999.38A3.26 3.26 0 1 0 1240.24 999.38ZM1239.1 999.38L1247.9 999.38M1243.5 994.97L1243.5 1003.78M1240.24 1010.62A3.26 3.26 0 1 0 1246.76 1010.62A3.26 3.26 0 1 0 1240.24 1010.62ZM1239.1 1010.62L1247.9 1010.62M1243.5 1006.22L1243.5 1015.03M1562.5 993.75H1586.25V1016.25H1562.5ZM1566.35 995.89H1582.4A1.71 1.71 0 0 1 1584.11 997.6V1012.4A1.71 1.71 0 0 1 1582.4 1014.11H1566.35A1.71 1.71 0 0 1 1564.64 1012.4V997.6A1.71 1.71 0 0 1 1566.35 995.89ZM1576.75 1000.5A1.19 1.19 0 1 0 1579.12 1000.5A1.19 1.19 0 1 0 1576.75 1000.5ZM1640.05 1008.8H1678.2A7.5 7.5 0 0 1 1685.7 1016.3V1039.7H1640.05ZM1641.25 1010H1678.5A6 6 0 0 1 1684.5 1016V1038.5H1641.25ZM1643.75 1034.5A1.5 1.5 0 1 0 1646.75 1034.5A1.5 1.5 0 1 0 1643.75 1034.5ZM1596.25 972.5H1617.5V989.5H1596.25ZM1601.35 981A5.53 5.53 0 1 0 1612.4 981A5.53 5.53 0 1 0 1601.35 981ZM1600.52 987.35L1606.56 980.05L1607.19 981.95L1613.23 974.65M1602.5 1016.25H1624.5V1028.25H1602.5ZM1604.81 1022.25A3.19 3.19 0 1 0 1611.19 1022.25A3.19 3.19 0 1 0 1604.81 1022.25ZM1603.69 1022.25L1612.31 1022.25M1608 1017.94L1608 1026.56M1615.81 1022.25A3.19 3.19 0 1 0 1622.19 1022.25A3.19 3.19 0 1 0 1615.81 1022.25ZM1614.69 1022.25L1623.31 1022.25M1619 1017.94L1619 1026.56" fill="none" stroke="#909090" stroke-width=".6"/>
<path d="M350.75 451.25L350.75 416.25A35 35 0 0 0 315.75 451.25M166.25 524.5L166.25 556.25A31.75 31.75 0 0 0 198 524.5M244.5 561.25L214.5 561.25A30 30 0 0 0 244.5 591.25M363.75 548L335 548A28.75 28.75 0 0 1 363.75 519.25M547.5 466.25L578.75 466.25A31.25 31.25 0 0 0 547.5 435M548.25 559.5L519.5 559.5A28.75 28.75 0 0 1 548.25 530.75M711.25 425H717.5V441.25H711.25ZM710.75 443.75L710.75 409.5A34.25 34.25 0 0 0 676.5 443.75M736.25 562L706.25 562A30 30 0 0 1 736.25 532M920.75 558L948.75 558A28 28 0 0 0 920.75 530M956.75 444L956.75 409.5A34.5 34.5 0 0 1 991.25 444M1197 548L1167.5 548A29.5 29.5 0 0 1 1197 518.5M1350.75 548L1322 548A28.75 28.75 0 0 1 1350.75 519.25M1503.25 548L1531.75 548A28.5 28.5 0 0 0 1503.25 519.5M1521.25 441.75L1487.5 441.75A33.75 33.75 0 0 1 1521.25 408M1681.75 522L1711.75 522A30 30 0 0 0 1681.75 492M1688 528.75L1688 561.25A32.5 32.5 0 0 0 1720.5 528.75M1730.5 528.75L1730.5 561.25A32.5 32.5 0 0 0 1763 528.75M347.5 759.5L347.5 788.25A28.75 28.75 0 0 1 318.75 759.5M380.5 795.5L347 795.5A33.5 33.5 0 0 1 380.5 762M552.5 831.25L552.5 865.75A34.5 34.5 0 0 0 587 831.25M503 908.25L503 873.25A35 35 0 0 1 538 908.25M548.75 942L519.5 942A29.25 29.25 0 0 0 548.75 971.25M593.75 759.5L593.75 788.75A29.25 29.25 0 0 1 564.5 759.5M834.5 670.5L834.5 706.25A35.75 35.75 0 0 1 798.75 670.5M834.5 828.75L834.5 792.5A36.25 36.25 0 0 0 798.25 828.75M994.25 670.5L994.25 706.25A35.75 35.75 0 0 0 1030 670.5M1031.75 828.75L1031.75 792.5A36.25 36.25 0 0 0 995.5 828.75M707.5 911.25L707.5 873.75A37.5 37.5 0 0 1 745 911.25M971.75 911.25L971.75 873.75A37.5 37.5 0 0 1 1009.25 911.25M754.5 950.75L724.5 950.75A30 30 0 0 0 754.5 980.75M910 950.75L938 950.75A28 28 0 0 1 910 978.75M773.25 717.25L778.75 722.8L773.25 728.25M687.25 768.5L681.25 774.4L687.25 780.25M760.38 768.75L753.88 774.4L760.38 780M733.6 754.2L745.19 770.8M739.6 754.2L749.94 770.8M747.19 776.8L757.98 795M753.19 776.8L763.58 795M742.44 770.8L747.44 773.75L742.44 776.8M753.94 770.8L748.94 774.4L753.94 777.5M863.25 699H940.75V741.75H863.25ZM863.25 699L940.75 741.75M863.25 741.75L940.75 699M863.25 769.5H940.75V812H863.25ZM863.25 769.5L940.75 812M863.25 812L940.75 769.5M1083 687.5H1160.5V730.25H1083ZM1083 687.5L1160.5 730.25M1083 730.25L1160.5 687.5M1083 758H1160.5V800.75H1083ZM1083 758L1160.5 800.75M1083 800.75L1160.5 758M1245.75 670.5L1245.75 706.25A35.75 35.75 0 0 0 1281.5 670.5M1245.75 828.75L1245.75 792.5A36.25 36.25 0 0 1 1282 828.75M1303 743.3L1341.6 743.3A38.6 38.6 0 0 1 1303 781.9M1328.75 911.25L1328.75 873.75A37.5 37.5 0 0 0 1291.25 911.25M1534.5 911.25L1534.5 873.75A37.5 37.5 0 0 0 1497 911.25M1337 947L1307 947A30 30 0 0 0 1337 977M1490 947L1520 947A30 30 0 0 1 1490 977M1454 717.25L1459.5 722.8L1454 728.25M1368 768.5L1362 774.4L1368 780.25M1441.12 768.75L1434.62 774.4L1441.12 780M1414.35 754.2L1425.94 770.8M1420.35 754.2L1430.69 770.8M1427.94 776.8L1438.72 795M1433.94 776.8L1444.33 795M1423.19 770.8L1428.19 773.75L1423.19 776.8M1434.69 770.8L1429.69 774.4L1434.69 777.5M1600 654.6L1560.4 654.6A39.6 39.6 0 0 1 1600 615M1600 880.5L1560.5 880.5A39.5 39.5 0 0 1 1600 841M1633.75 672L1633.75 642.5A29.5 29.5 0 0 1 1663.25 672M1633.75 829.5L1633.75 855.5A26 26 0 0 0 1659.75 829.5M1700 964.5L1700 932.5A32 32 0 0 1 1732 964.5M1742 964.5L1742 932.5A32 32 0 0 1 1774 964.5M287.5 984.5L287.5 1018A33.5 33.5 0 0 1 254 984.5M301.25 984.5L301.25 1017.5A33 33 0 0 0 334.25 984.5M493.75 1058L493.75 1091.75A33.75 33.75 0 0 0 527.5 1058M718 1125.5L752.5 1125.5A34.5 34.5 0 0 0 718 1091M1305.5 1065L1339.5 1065A34 34 0 0 1 1305.5 1099M1522 1065L1487.5 1065A34.5 34.5 0 0 0 1522 1099.5M1342 1011.25L1342 1038.75A27.5 27.5 0 0 0 1369.5 1011.25M1485 1011.25L1485 1038.75A27.5 27.5 0 0 1 1457.5 1011.25M1688 977.5L1717.5 977.5A29.5 29.5 0 0 1 1688 1007M151.25 301.5L169.25 321.5A26.91 26.91 0 0 0 178.16 301.5M384 301.5L402 321.5A26.91 26.91 0 0 0 410.91 301.5M617 301.5L635 321.5A26.91 26.91 0 0 0 643.91 301.5M850 301.5L868 321.5A26.91 26.91 0 0 0 876.91 301.5M1316 301.5L1334 321.5A26.91 26.91 0 0 0 1342.91 301.5M1549 301.5L1567 321.5A26.91 26.91 0 0 0 1575.91 301.5M1316 301.5L1334 321.5A26.91 26.91 0 0 0 1342.91 301.5M383.5 1197L401.5 1177.5A26.54 26.54 0 0 1 410.04 1197M616.5 1197L634.5 1177.5A26.54 26.54 0 0 1 643.04 1197M849.5 1197L867.5 1177.5A26.54 26.54 0 0 1 876.04 1197M1315.5 1197L1333.5 1177.5A26.54 26.54 0 0 1 1342.04 1197M1548.5 1197L1566.5 1177.5A26.54 26.54 0 0 1 1575.04 1197M320.9 586.5L320.9 625.5A39 39 0 0 0 359.9 586.5M318.9 586.5H320.9V590H318.9ZM357.1 586.5H359.1V590H357.1ZM498.7 586.5L498.7 625.5A39 39 0 0 0 537.7 586.5M496.7 586.5H498.7V590H496.7ZM534.9 586.5H536.9V590H534.9ZM692 586.5L692 625.5A39 39 0 0 0 731 586.5M690 586.5H692V590H690ZM729.25 586.5H731.25V590H729.25ZM934.5 586.5L934.5 625.5A39 39 0 0 0 973.5 586.5M932.5 586.5H934.5V590H932.5ZM970.5 586.5H972.5V590H970.5ZM1188.5 586.5L1188.5 625.5A39 39 0 0 1 1149.5 586.5M1150 586.5H1152V590H1150ZM1188.5 586.5H1190.5V590H1188.5ZM1333.5 586.5L1333.5 625.5A39 39 0 0 1 1294.5 586.5M1295 586.5H1297V590H1295ZM1333.5 586.5H1335.5V590H1333.5ZM1556.75 586.5L1556.75 625.5A39 39 0 0 1 1517.75 586.5M1517.5 586.5H1519.5V590H1517.5ZM1556.75 586.5H1558.75V590H1556.75ZM1063.75 1206.3L1168.75 1206.3M1063.75 1212.3L1168.75 1212.3M1066 1206.3L1066 1212.3M1068.2 1206.3L1068.2 1212.3M1072.1 1206.3L1072.1 1212.3M1074.3 1206.3L1074.3 1212.3M1078.2 1206.3L1078.2 1212.3M1080.4 1206.3L1080.4 1212.3M1084.3 1206.3L1084.3 1212.3M1086.5 1206.3L1086.5 1212.3M1090.4 1206.3L1090.4 1212.3M1092.6 1206.3L1092.6 1212.3M1096.5 1206.3L1096.5 1212.3M1098.7 1206.3L1098.7 1212.3M1102.6 1206.3L1102.6 1212.3M1104.8 1206.3L1104.8 1212.3M1108.7 1206.3L1108.7 1212.3M1110.9 1206.3L1110.9 1212.3M1114.8 1206.3L1114.8 1212.3M1117 1206.3L1117 1212.3M1120.9 1206.3L1120.9 1212.3M1123.1 1206.3L1123.1 1212.3M1127 1206.3L1127 1212.3M1129.2 1206.3L1129.2 1212.3M1133.1 1206.3L1133.1 1212.3M1135.3 1206.3L1135.3 1212.3M1139.2 1206.3L1139.2 1212.3M1141.4 1206.3L1141.4 1212.3M1145.3 1206.3L1145.3 1212.3M1147.5 1206.3L1147.5 1212.3M1151.4 1206.3L1151.4 1212.3M1153.6 1206.3L1153.6 1212.3M1157.5 1206.3L1157.5 1212.3M1159.7 1206.3L1159.7 1212.3M1163.6 1206.3L1163.6 1212.3M1165.8 1206.3L1165.8 1212.3" fill="none" stroke="#6e6e6e" stroke-width=".6"/>
<path d="M311.25 451.75L311.25 490" stroke="#8c8c8c" stroke-width="0.5" stroke-dasharray="4.5 3" fill="none"/>
<path d="M496.75 505L547.5 505" stroke="#8c8c8c" stroke-width="0.5" stroke-dasharray="4.5 3" fill="none"/>
<path d="M547.5 432L600 432" stroke="#8c8c8c" stroke-width="0.5" stroke-dasharray="4.5 3" fill="none"/>
<path d="M450 230L450 230" stroke="#8c8c8c" stroke-width="0.5" stroke-dasharray="4.5 3" fill="none"/>
<g transform="translate(381.25 560) rotate(0)" class="fx"><path d="M-7 9.6V-0.85C-7 -6.54 -4.34 -9.6 0 -9.6C4.34 -9.6 7 -6.54 7 -0.85V9.6ZM-5.3 9.6V-1.27C-5.3 -5.58 -3.29 -7.9 0 -7.9C3.29 -7.9 5.3 -5.58 5.3 -1.27V9.6ZM-2.3 2A2.3 4.8 0 1 0 2.3 2A2.3 4.8 0 1 0 -2.3 2Z"/></g>
<g transform="translate(409.25 574.25) rotate(0)" class="fx"><path d="M-9.6 6.9V-3.7Q-9.6 -6.3 -6.6 -6.6Q0 -7.8 6.6 -6.6Q9.6 -6.3 9.6 -3.7V6.9ZM-7.4 -2.7Q-7.4 -4.5 -5.2 -4.7Q0 -5.3 5.2 -4.7Q7.4 -4.5 7.4 -2.7L6.6 3.5Q6.4 5.1 4.6 5.1H-4.6Q-6.4 5.1 -6.6 3.5ZM-0.6 3.3V4.7H0.6V3.3Z"/></g>
<g transform="translate(278.75 571.75) rotate(270)" class="fx"><path d="M-9.6 6.9V-3.7Q-9.6 -6.3 -6.6 -6.6Q0 -7.8 6.6 -6.6Q9.6 -6.3 9.6 -3.7V6.9ZM-7.4 -2.7Q-7.4 -4.5 -5.2 -4.7Q0 -5.3 5.2 -4.7Q7.4 -4.5 7.4 -2.7L6.6 3.5Q6.4 5.1 4.6 5.1H-4.6Q-6.4 5.1 -6.6 3.5ZM-0.6 3.3V4.7H0.6V3.3Z"/></g>
<g transform="translate(593.75 566.25) rotate(270)" class="fx"><path d="M-9.6 6.9V-3.7Q-9.6 -6.3 -6.6 -6.6Q0 -7.8 6.6 -6.6Q9.6 -6.3 9.6 -3.7V6.9ZM-7.4 -2.7Q-7.4 -4.5 -5.2 -4.7Q0 -5.3 5.2 -4.7Q7.4 -4.5 7.4 -2.7L6.6 3.5Q6.4 5.1 4.6 5.1H-4.6Q-6.4 5.1 -6.6 3.5ZM-0.6 3.3V4.7H0.6V3.3Z"/></g>
<path d="M672.5 507.5L710.5 507.5" stroke="#8c8c8c" stroke-width="0.5" stroke-dasharray="4.5 3" fill="none"/>
<path d="M921.25 497L968.75 497" stroke="#8c8c8c" stroke-width="0.5" stroke-dasharray="4.5 3" fill="none"/>
<path d="M994.5 443L1025 443" stroke="#8c8c8c" stroke-width="0.5" stroke-dasharray="4.5 3" fill="none"/>
<path d="M670.5 530L670.5 562.5" stroke="#8c8c8c" stroke-width="0.5" stroke-dasharray="4.5 3" fill="none"/>
<path d="M992.5 528.75L992.5 562.5" stroke="#8c8c8c" stroke-width="0.5" stroke-dasharray="4.5 3" fill="none"/>
<g transform="translate(814.25 568) rotate(270)" class="fx"><path d="M-7 9.6V-0.85C-7 -6.54 -4.34 -9.6 0 -9.6C4.34 -9.6 7 -6.54 7 -0.85V9.6ZM-5.3 9.6V-1.27C-5.3 -5.58 -3.29 -7.9 0 -7.9C3.29 -7.9 5.3 -5.58 5.3 -1.27V9.6ZM-2.3 2A2.3 4.8 0 1 0 2.3 2A2.3 4.8 0 1 0 -2.3 2Z"/></g>
<g transform="translate(764 577.5) rotate(0)" class="fx"><path d="M-9.6 6.9V-3.7Q-9.6 -6.3 -6.6 -6.6Q0 -7.8 6.6 -6.6Q9.6 -6.3 9.6 -3.7V6.9ZM-7.4 -2.7Q-7.4 -4.5 -5.2 -4.7Q0 -5.3 5.2 -4.7Q7.4 -4.5 7.4 -2.7L6.6 3.5Q6.4 5.1 4.6 5.1H-4.6Q-6.4 5.1 -6.6 3.5ZM-0.6 3.3V4.7H0.6V3.3Z"/></g>
<g transform="translate(858 539.5) rotate(90)" class="fx"><path d="M-9.6 6.9V-3.7Q-9.6 -6.3 -6.6 -6.6Q0 -7.8 6.6 -6.6Q9.6 -6.3 9.6 -3.7V6.9ZM-7.4 -2.7Q-7.4 -4.5 -5.2 -4.7Q0 -5.3 5.2 -4.7Q7.4 -4.5 7.4 -2.7L6.6 3.5Q6.4 5.1 4.6 5.1H-4.6Q-6.4 5.1 -6.6 3.5ZM-0.6 3.3V4.7H0.6V3.3Z"/></g>
<g transform="translate(871.75 567.75) rotate(90)" class="fx"><path d="M-7 9.6V-0.85C-7 -6.54 -4.34 -9.6 0 -9.6C4.34 -9.6 7 -6.54 7 -0.85V9.6ZM-5.3 9.6V-1.27C-5.3 -5.58 -3.29 -7.9 0 -7.9C3.29 -7.9 5.3 -5.58 5.3 -1.27V9.6ZM-2.3 2A2.3 4.8 0 1 0 2.3 2A2.3 4.8 0 1 0 -2.3 2Z"/></g>
<g transform="translate(597 567.5) rotate(270)" class="fx"><path d="M-7 9.6V-0.85C-7 -6.54 -4.34 -9.6 0 -9.6C4.34 -9.6 7 -6.54 7 -0.85V9.6ZM-5.3 9.6V-1.27C-5.3 -5.58 -3.29 -7.9 0 -7.9C3.29 -7.9 5.3 -5.58 5.3 -1.27V9.6ZM-2.3 2A2.3 4.8 0 1 0 2.3 2A2.3 4.8 0 1 0 -2.3 2Z"/></g>
<path d="M1147 445.5L1176.25 445.5" stroke="#8c8c8c" stroke-width="0.5" stroke-dasharray="4.5 3" fill="none"/>
<path d="M1147 445.5L1147 512.5" stroke="#8c8c8c" stroke-width="0.5" stroke-dasharray="4.5 3" fill="none"/>
<path d="M1147 513.75L1193.75 513.75" stroke="#8c8c8c" stroke-width="0.5" stroke-dasharray="4.5 3" fill="none"/>
<path d="M1293.75 438L1337 438" stroke="#8c8c8c" stroke-width="0.5" stroke-dasharray="4.5 3" fill="none"/>
<path d="M1337.5 320L1337.5 437.5" stroke="#8c8c8c" stroke-width="0.5" stroke-dasharray="4.5 3" fill="none"/>
<path d="M1349.5 440L1349.5 480.75" stroke="#8c8c8c" stroke-width="0.5" stroke-dasharray="4.5 3" fill="none"/>
<path d="M1413.75 445L1477 445" stroke="#8c8c8c" stroke-width="0.5" stroke-dasharray="4.5 3" fill="none"/>
<path d="M1503.75 513.75L1547.5 513.75" stroke="#8c8c8c" stroke-width="0.5" stroke-dasharray="4.5 3" fill="none"/>
<path d="M1145 530L1145 562.5" stroke="#8c8c8c" stroke-width="0.5" stroke-dasharray="4.5 3" fill="none"/>
<g transform="translate(1213.75 560.5) rotate(0)" class="fx"><path d="M-7 9.6V-0.85C-7 -6.54 -4.34 -9.6 0 -9.6C4.34 -9.6 7 -6.54 7 -0.85V9.6ZM-5.3 9.6V-1.27C-5.3 -5.58 -3.29 -7.9 0 -7.9C3.29 -7.9 5.3 -5.58 5.3 -1.27V9.6ZM-2.3 2A2.3 4.8 0 1 0 2.3 2A2.3 4.8 0 1 0 -2.3 2Z"/></g>
<g transform="translate(1241.25 574.5) rotate(0)" class="fx"><path d="M-9.6 6.9V-3.7Q-9.6 -6.3 -6.6 -6.6Q0 -7.8 6.6 -6.6Q9.6 -6.3 9.6 -3.7V6.9ZM-7.4 -2.7Q-7.4 -4.5 -5.2 -4.7Q0 -5.3 5.2 -4.7Q7.4 -4.5 7.4 -2.7L6.6 3.5Q6.4 5.1 4.6 5.1H-4.6Q-6.4 5.1 -6.6 3.5ZM-0.6 3.3V4.7H0.6V3.3Z"/></g>
<g transform="translate(1391.25 530) rotate(270)" class="fx"><path d="M-9.6 6.9V-3.7Q-9.6 -6.3 -6.6 -6.6Q0 -7.8 6.6 -6.6Q9.6 -6.3 9.6 -3.7V6.9ZM-7.4 -2.7Q-7.4 -4.5 -5.2 -4.7Q0 -5.3 5.2 -4.7Q7.4 -4.5 7.4 -2.7L6.6 3.5Q6.4 5.1 4.6 5.1H-4.6Q-6.4 5.1 -6.6 3.5ZM-0.6 3.3V4.7H0.6V3.3Z"/></g>
<g transform="translate(1367.5 560.5) rotate(0)" class="fx"><path d="M-7 9.6V-0.85C-7 -6.54 -4.34 -9.6 0 -9.6C4.34 -9.6 7 -6.54 7 -0.85V9.6ZM-5.3 9.6V-1.27C-5.3 -5.58 -3.29 -7.9 0 -7.9C3.29 -7.9 5.3 -5.58 5.3 -1.27V9.6ZM-2.3 2A2.3 4.8 0 1 0 2.3 2A2.3 4.8 0 1 0 -2.3 2Z"/></g>
<g transform="translate(1457 521.75) rotate(180)" class="fx"><path d="M-9.6 6.9V-3.7Q-9.6 -6.3 -6.6 -6.6Q0 -7.8 6.6 -6.6Q9.6 -6.3 9.6 -3.7V6.9ZM-7.4 -2.7Q-7.4 -4.5 -5.2 -4.7Q0 -5.3 5.2 -4.7Q7.4 -4.5 7.4 -2.7L6.6 3.5Q6.4 5.1 4.6 5.1H-4.6Q-6.4 5.1 -6.6 3.5ZM-0.6 3.3V4.7H0.6V3.3Z"/></g>
<g transform="translate(1485 560) rotate(0)" class="fx"><path d="M-7 9.6V-0.85C-7 -6.54 -4.34 -9.6 0 -9.6C4.34 -9.6 7 -6.54 7 -0.85V9.6ZM-5.3 9.6V-1.27C-5.3 -5.58 -3.29 -7.9 0 -7.9C3.29 -7.9 5.3 -5.58 5.3 -1.27V9.6ZM-2.3 2A2.3 4.8 0 1 0 2.3 2A2.3 4.8 0 1 0 -2.3 2Z"/></g>
<path d="M1638.75 430.5L1725 430.5" stroke="#8c8c8c" stroke-width="0.5" stroke-dasharray="4.5 3" fill="none"/>
<path d="M1561.25 515.75L1561.25 586.25" stroke="#8c8c8c" stroke-width="0.5" stroke-dasharray="4.5 3" fill="none"/>
<g transform="translate(1641.25 503) rotate(90)" class="fx"><path d="M-9.6 6.9V-3.7Q-9.6 -6.3 -6.6 -6.6Q0 -7.8 6.6 -6.6Q9.6 -6.3 9.6 -3.7V6.9ZM-7.4 -2.7Q-7.4 -4.5 -5.2 -4.7Q0 -5.3 5.2 -4.7Q7.4 -4.5 7.4 -2.7L6.6 3.5Q6.4 5.1 4.6 5.1H-4.6Q-6.4 5.1 -6.6 3.5ZM-0.6 3.3V4.7H0.6V3.3Z"/></g>
<g transform="translate(1665 534.25) rotate(0)" class="fx"><path d="M-7 9.6V-0.85C-7 -6.54 -4.34 -9.6 0 -9.6C4.34 -9.6 7 -6.54 7 -0.85V9.6ZM-5.3 9.6V-1.27C-5.3 -5.58 -3.29 -7.9 0 -7.9C3.29 -7.9 5.3 -5.58 5.3 -1.27V9.6ZM-2.3 2A2.3 4.8 0 1 0 2.3 2A2.3 4.8 0 1 0 -2.3 2Z"/></g>
<path d="M206.25 638.75L242.5 638.75" stroke="#8c8c8c" stroke-width="0.5" stroke-dasharray="4.5 3" fill="none"/>
<path d="M295.5 759.5L295.5 798.75" stroke="#8c8c8c" stroke-width="0.5" stroke-dasharray="4.5 3" fill="none"/>
<path d="M381.75 827.5L425 827.5" stroke="#8c8c8c" stroke-width="0.5" stroke-dasharray="4.5 3" fill="none"/>
<path d="M435 758.75L475 758.75" stroke="#8c8c8c" stroke-width="0.5" stroke-dasharray="4.5 3" fill="none"/>
<g transform="translate(380.5 717) rotate(270)" class="fx"><path d="M-7 9.6V-0.85C-7 -6.54 -4.34 -9.6 0 -9.6C4.34 -9.6 7 -6.54 7 -0.85V9.6ZM-5.3 9.6V-1.27C-5.3 -5.58 -3.29 -7.9 0 -7.9C3.29 -7.9 5.3 -5.58 5.3 -1.27V9.6ZM-2.3 2A2.3 4.8 0 1 0 2.3 2A2.3 4.8 0 1 0 -2.3 2Z"/></g>
<g transform="translate(307.5 736.75) rotate(90)" class="fx"><path d="M-9.6 6.9V-3.7Q-9.6 -6.3 -6.6 -6.6Q0 -7.8 6.6 -6.6Q9.6 -6.3 9.6 -3.7V6.9ZM-7.4 -2.7Q-7.4 -4.5 -5.2 -4.7Q0 -5.3 5.2 -4.7Q7.4 -4.5 7.4 -2.7L6.6 3.5Q6.4 5.1 4.6 5.1H-4.6Q-6.4 5.1 -6.6 3.5ZM-0.6 3.3V4.7H0.6V3.3Z"/></g>
<g transform="translate(573.75 697.5) rotate(180)" class="fx"><path d="M-9.6 6.9V-3.7Q-9.6 -6.3 -6.6 -6.6Q0 -7.8 6.6 -6.6Q9.6 -6.3 9.6 -3.7V6.9ZM-7.4 -2.7Q-7.4 -4.5 -5.2 -4.7Q0 -5.3 5.2 -4.7Q7.4 -4.5 7.4 -2.7L6.6 3.5Q6.4 5.1 4.6 5.1H-4.6Q-6.4 5.1 -6.6 3.5ZM-0.6 3.3V4.7H0.6V3.3Z"/></g>
<g transform="translate(265 614.5) rotate(0)" class="fx"><path d="M-7 9.6V-0.85C-7 -6.54 -4.34 -9.6 0 -9.6C4.34 -9.6 7 -6.54 7 -0.85V9.6ZM-5.3 9.6V-1.27C-5.3 -5.58 -3.29 -7.9 0 -7.9C3.29 -7.9 5.3 -5.58 5.3 -1.27V9.6ZM-2.3 2A2.3 4.8 0 1 0 2.3 2A2.3 4.8 0 1 0 -2.3 2Z"/></g>
<g transform="translate(595 933) rotate(270)" class="fx"><path d="M-7 9.6V-0.85C-7 -6.54 -4.34 -9.6 0 -9.6C4.34 -9.6 7 -6.54 7 -0.85V9.6ZM-5.3 9.6V-1.27C-5.3 -5.58 -3.29 -7.9 0 -7.9C3.29 -7.9 5.3 -5.58 5.3 -1.27V9.6ZM-2.3 2A2.3 4.8 0 1 0 2.3 2A2.3 4.8 0 1 0 -2.3 2Z"/></g>
<path d="M676.25 935L676.25 975" stroke="#8c8c8c" stroke-width="0.5" stroke-dasharray="4.5 3" fill="none"/>
<g transform="translate(799.5 933) rotate(270)" class="fx"><path d="M-7 9.6V-0.85C-7 -6.54 -4.34 -9.6 0 -9.6C4.34 -9.6 7 -6.54 7 -0.85V9.6ZM-5.3 9.6V-1.27C-5.3 -5.58 -3.29 -7.9 0 -7.9C3.29 -7.9 5.3 -5.58 5.3 -1.27V9.6ZM-2.3 2A2.3 4.8 0 1 0 2.3 2A2.3 4.8 0 1 0 -2.3 2Z"/></g>
<g transform="translate(813.75 965.75) rotate(270)" class="fx"><path d="M-9.6 6.9V-3.7Q-9.6 -6.3 -6.6 -6.6Q0 -7.8 6.6 -6.6Q9.6 -6.3 9.6 -3.7V6.9ZM-7.4 -2.7Q-7.4 -4.5 -5.2 -4.7Q0 -5.3 5.2 -4.7Q7.4 -4.5 7.4 -2.7L6.6 3.5Q6.4 5.1 4.6 5.1H-4.6Q-6.4 5.1 -6.6 3.5ZM-0.6 3.3V4.7H0.6V3.3Z"/></g>
<g transform="translate(887.5 938.75) rotate(180)" class="fx"><path d="M-7 9.6V-0.85C-7 -6.54 -4.34 -9.6 0 -9.6C4.34 -9.6 7 -6.54 7 -0.85V9.6ZM-5.3 9.6V-1.27C-5.3 -5.58 -3.29 -7.9 0 -7.9C3.29 -7.9 5.3 -5.58 5.3 -1.27V9.6ZM-2.3 2A2.3 4.8 0 1 0 2.3 2A2.3 4.8 0 1 0 -2.3 2Z"/></g>
<g transform="translate(848 965) rotate(90)" class="fx"><path d="M-9.6 6.9V-3.7Q-9.6 -6.3 -6.6 -6.6Q0 -7.8 6.6 -6.6Q9.6 -6.3 9.6 -3.7V6.9ZM-7.4 -2.7Q-7.4 -4.5 -5.2 -4.7Q0 -5.3 5.2 -4.7Q7.4 -4.5 7.4 -2.7L6.6 3.5Q6.4 5.1 4.6 5.1H-4.6Q-6.4 5.1 -6.6 3.5ZM-0.6 3.3V4.7H0.6V3.3Z"/></g>
<g transform="translate(602.75 712) rotate(180)" class="fx"><path d="M-7 9.6V-0.85C-7 -6.54 -4.34 -9.6 0 -9.6C4.34 -9.6 7 -6.54 7 -0.85V9.6ZM-5.3 9.6V-1.27C-5.3 -5.58 -3.29 -7.9 0 -7.9C3.29 -7.9 5.3 -5.58 5.3 -1.27V9.6ZM-2.3 2A2.3 4.8 0 1 0 2.3 2A2.3 4.8 0 1 0 -2.3 2Z"/></g>
<path d="M1286.25 935L1286.25 967.5" stroke="#8c8c8c" stroke-width="0.5" stroke-dasharray="4.5 3" fill="none"/>
<g transform="translate(1396.25 957.5) rotate(270)" class="fx"><path d="M-9.6 6.9V-3.7Q-9.6 -6.3 -6.6 -6.6Q0 -7.8 6.6 -6.6Q9.6 -6.3 9.6 -3.7V6.9ZM-7.4 -2.7Q-7.4 -4.5 -5.2 -4.7Q0 -5.3 5.2 -4.7Q7.4 -4.5 7.4 -2.7L6.6 3.5Q6.4 5.1 4.6 5.1H-4.6Q-6.4 5.1 -6.6 3.5ZM-0.6 3.3V4.7H0.6V3.3Z"/></g>
<g transform="translate(1430.5 957.5) rotate(90)" class="fx"><path d="M-9.6 6.9V-3.7Q-9.6 -6.3 -6.6 -6.6Q0 -7.8 6.6 -6.6Q9.6 -6.3 9.6 -3.7V6.9ZM-7.4 -2.7Q-7.4 -4.5 -5.2 -4.7Q0 -5.3 5.2 -4.7Q7.4 -4.5 7.4 -2.7L6.6 3.5Q6.4 5.1 4.6 5.1H-4.6Q-6.4 5.1 -6.6 3.5ZM-0.6 3.3V4.7H0.6V3.3Z"/></g>
<path d="M1600 616.25L1682 616.25" stroke="#8c8c8c" stroke-width="0.5" stroke-dasharray="4.5 3" fill="none"/>
<path d="M1683.75 626.25L1683.75 669.5" stroke="#8c8c8c" stroke-width="0.5" stroke-dasharray="4.5 3" fill="none"/>
<path d="M1683.75 633L1855.5 633" stroke="#8c8c8c" stroke-width="0.5" stroke-dasharray="4.5 3" fill="none"/>
<path d="M1690.5 827.5L1690.5 867.5" stroke="#8c8c8c" stroke-width="0.5" stroke-dasharray="4.5 3" fill="none"/>
<path d="M1600 882L1687.5 882" stroke="#8c8c8c" stroke-width="0.5" stroke-dasharray="4.5 3" fill="none"/>
<g transform="translate(1670.5 718) rotate(0)" class="fx"><path d="M-7 9.6V-0.85C-7 -6.54 -4.34 -9.6 0 -9.6C4.34 -9.6 7 -6.54 7 -0.85V9.6ZM-5.3 9.6V-1.27C-5.3 -5.58 -3.29 -7.9 0 -7.9C3.29 -7.9 5.3 -5.58 5.3 -1.27V9.6ZM-2.3 2A2.3 4.8 0 1 0 2.3 2A2.3 4.8 0 1 0 -2.3 2Z"/></g>
<g transform="translate(1643 732.25) rotate(0)" class="fx"><path d="M-9.6 6.9V-3.7Q-9.6 -6.3 -6.6 -6.6Q0 -7.8 6.6 -6.6Q9.6 -6.3 9.6 -3.7V6.9ZM-7.4 -2.7Q-7.4 -4.5 -5.2 -4.7Q0 -5.3 5.2 -4.7Q7.4 -4.5 7.4 -2.7L6.6 3.5Q6.4 5.1 4.6 5.1H-4.6Q-6.4 5.1 -6.6 3.5ZM-0.6 3.3V4.7H0.6V3.3Z"/></g>
<g transform="translate(1643 763.25) rotate(180)" class="fx"><path d="M-9.6 6.9V-3.7Q-9.6 -6.3 -6.6 -6.6Q0 -7.8 6.6 -6.6Q9.6 -6.3 9.6 -3.7V6.9ZM-7.4 -2.7Q-7.4 -4.5 -5.2 -4.7Q0 -5.3 5.2 -4.7Q7.4 -4.5 7.4 -2.7L6.6 3.5Q6.4 5.1 4.6 5.1H-4.6Q-6.4 5.1 -6.6 3.5ZM-0.6 3.3V4.7H0.6V3.3Z"/></g>
<g transform="translate(1670.5 777.5) rotate(180)" class="fx"><path d="M-7 9.6V-0.85C-7 -6.54 -4.34 -9.6 0 -9.6C4.34 -9.6 7 -6.54 7 -0.85V9.6ZM-5.3 9.6V-1.27C-5.3 -5.58 -3.29 -7.9 0 -7.9C3.29 -7.9 5.3 -5.58 5.3 -1.27V9.6ZM-2.3 2A2.3 4.8 0 1 0 2.3 2A2.3 4.8 0 1 0 -2.3 2Z"/></g>
<g transform="translate(1670.5 965) rotate(180)" class="fx"><path d="M-7 9.6V-0.85C-7 -6.54 -4.34 -9.6 0 -9.6C4.34 -9.6 7 -6.54 7 -0.85V9.6ZM-5.3 9.6V-1.27C-5.3 -5.58 -3.29 -7.9 0 -7.9C3.29 -7.9 5.3 -5.58 5.3 -1.27V9.6ZM-2.3 2A2.3 4.8 0 1 0 2.3 2A2.3 4.8 0 1 0 -2.3 2Z"/></g>
<path d="M488 1012.5L488 1057.5" stroke="#8c8c8c" stroke-width="0.5" stroke-dasharray="4.5 3" fill="none"/>
<path d="M549.5 1058.75L578.75 1058.75" stroke="#8c8c8c" stroke-width="0.5" stroke-dasharray="4.5 3" fill="none"/>
<path d="M677.5 1012L717.5 1012" stroke="#8c8c8c" stroke-width="0.5" stroke-dasharray="4.5 3" fill="none"/>
<path d="M972.5 988.75L1011.25 988.75" stroke="#8c8c8c" stroke-width="0.5" stroke-dasharray="4.5 3" fill="none"/>
<path d="M944.5 1080L944.5 1192.5" stroke="#8c8c8c" stroke-width="0.5" stroke-dasharray="4.5 3" fill="none"/>
<path d="M676.25 935.5L676.25 975" stroke="#8c8c8c" stroke-width="0.5" stroke-dasharray="4.5 3" fill="none"/>
<g transform="translate(609.25 960.5) rotate(270)" class="fx"><path d="M-9.6 6.9V-3.7Q-9.6 -6.3 -6.6 -6.6Q0 -7.8 6.6 -6.6Q9.6 -6.3 9.6 -3.7V6.9ZM-7.4 -2.7Q-7.4 -4.5 -5.2 -4.7Q0 -5.3 5.2 -4.7Q7.4 -4.5 7.4 -2.7L6.6 3.5Q6.4 5.1 4.6 5.1H-4.6Q-6.4 5.1 -6.6 3.5ZM-0.6 3.3V4.7H0.6V3.3Z"/></g>
<path d="M1287.5 992L1333.75 992" stroke="#8c8c8c" stroke-width="0.5" stroke-dasharray="4.5 3" fill="none"/>
<path d="M1286.25 935.5L1286.25 967.5" stroke="#8c8c8c" stroke-width="0.5" stroke-dasharray="4.5 3" fill="none"/>
<path d="M1337.5 1058L1385 1058" stroke="#8c8c8c" stroke-width="0.5" stroke-dasharray="4.5 3" fill="none"/>
<path d="M1442.5 1058L1489.5 1058" stroke="#8c8c8c" stroke-width="0.5" stroke-dasharray="4.5 3" fill="none"/>
<path d="M1516.25 991.25L1559.5 991.25" stroke="#8c8c8c" stroke-width="0.5" stroke-dasharray="4.5 3" fill="none"/>
<g transform="translate(1382.5 992.5) rotate(270)" class="fx"><path d="M-7 9.6V-0.85C-7 -6.54 -4.34 -9.6 0 -9.6C4.34 -9.6 7 -6.54 7 -0.85V9.6ZM-5.3 9.6V-1.27C-5.3 -5.58 -3.29 -7.9 0 -7.9C3.29 -7.9 5.3 -5.58 5.3 -1.27V9.6ZM-2.3 2A2.3 4.8 0 1 0 2.3 2A2.3 4.8 0 1 0 -2.3 2Z"/></g>
<g transform="translate(1444.5 992.5) rotate(90)" class="fx"><path d="M-7 9.6V-0.85C-7 -6.54 -4.34 -9.6 0 -9.6C4.34 -9.6 7 -6.54 7 -0.85V9.6ZM-5.3 9.6V-1.27C-5.3 -5.58 -3.29 -7.9 0 -7.9C3.29 -7.9 5.3 -5.58 5.3 -1.27V9.6ZM-2.3 2A2.3 4.8 0 1 0 2.3 2A2.3 4.8 0 1 0 -2.3 2Z"/></g>
<path d="M1560 912.7L1560 990" stroke="#8c8c8c" stroke-width="0.5" stroke-dasharray="4.5 3" fill="none"/>
<path d="M1638.75 1071.25L1733.75 1071.25" stroke="#8c8c8c" stroke-width="0.5" stroke-dasharray="4.5 3" fill="none"/>
<path d="M1516.25 991.25L1560 991.25" stroke="#8c8c8c" stroke-width="0.5" stroke-dasharray="4.5 3" fill="none"/>
<g transform="translate(1670.5 963.75) rotate(180)" class="fx"><path d="M-7 9.6V-0.85C-7 -6.54 -4.34 -9.6 0 -9.6C4.34 -9.6 7 -6.54 7 -0.85V9.6ZM-5.3 9.6V-1.27C-5.3 -5.58 -3.29 -7.9 0 -7.9C3.29 -7.9 5.3 -5.58 5.3 -1.27V9.6ZM-2.3 2A2.3 4.8 0 1 0 2.3 2A2.3 4.8 0 1 0 -2.3 2Z"/></g>
<g transform="translate(1646.25 995) rotate(90)" class="fx"><path d="M-9.6 6.9V-3.7Q-9.6 -6.3 -6.6 -6.6Q0 -7.8 6.6 -6.6Q9.6 -6.3 9.6 -3.7V6.9ZM-7.4 -2.7Q-7.4 -4.5 -5.2 -4.7Q0 -5.3 5.2 -4.7Q7.4 -4.5 7.4 -2.7L6.6 3.5Q6.4 5.1 4.6 5.1H-4.6Q-6.4 5.1 -6.6 3.5ZM-0.6 3.3V4.7H0.6V3.3Z"/></g>
<path d="M219.5 287H266V308H219.5ZM232.25 283.3H255V287.5H232.25ZM336 287H382.5V308H336ZM348.75 283.3H371.5V287.5H348.75ZM452.5 287H499V308H452.5ZM465.25 283.3H488V287.5H465.25ZM569 287H615.5V308H569ZM581.75 283.3H604.5V287.5H581.75ZM685.5 287H732V308H685.5ZM698.25 283.3H721V287.5H698.25ZM802 287H848.5V308H802ZM814.75 283.3H837.5V287.5H814.75ZM918.5 287H965V308H918.5ZM931.25 283.3H954V287.5H931.25ZM1035 287H1081.5V308H1035ZM1047.75 283.3H1070.5V287.5H1047.75ZM1151.5 287H1198V308H1151.5ZM1164.25 283.3H1187V287.5H1164.25ZM1268 287H1314.5V308H1268ZM1280.75 283.3H1303.5V287.5H1280.75ZM1384.5 287H1431V308H1384.5ZM1397.25 283.3H1420V287.5H1397.25ZM1501 287H1547.5V308H1501ZM1513.75 283.3H1536.5V287.5H1513.75ZM1617.5 287H1664V308H1617.5ZM1630.25 283.3H1653V287.5H1630.25ZM336 1191.75H382.5V1212H336ZM348.75 1211.5H371.5V1215.75H348.75ZM452.5 1191.75H499V1212H452.5ZM465.25 1211.5H488V1215.75H465.25ZM569 1191.75H615.5V1212H569ZM581.75 1211.5H604.5V1215.75H581.75ZM685.5 1191.75H732V1212H685.5ZM698.25 1211.5H721V1215.75H698.25ZM802 1191.75H848.5V1212H802ZM814.75 1211.5H837.5V1215.75H814.75ZM918.5 1191.75H965V1212H918.5ZM931.25 1211.5H954V1215.75H931.25ZM1268 1191.75H1314.5V1212H1268ZM1280.75 1211.5H1303.5V1215.75H1280.75ZM1384.5 1191.75H1431V1212H1384.5ZM1397.25 1211.5H1420V1215.75H1397.25ZM1501 1191.75H1547.5V1212H1501ZM1513.75 1211.5H1536.5V1215.75H1513.75ZM1617.5 1191.75H1664V1212H1617.5ZM1630.25 1211.5H1653V1215.75H1630.25ZM129.5 283H138.25V288H129.5ZM129.5 287.5H149.5V307.5H129.5ZM126.25 293.75H145V380.75H126.25ZM126.25 293.75H137.5V605H126.25ZM252.5 307L261.2 307L261.2 415L292.5 448L292.5 451.75L289.5 451.75L287 454.5L252.5 421ZM291.25 448H317.5V451.75H291.25ZM352 448H369.5V451.75H352ZM368.75 307H377.5V505H368.75ZM368.75 503.75H458.75V515H368.75ZM448.75 515H458.75V587.5H448.75ZM462 506.25H465V587.5H462ZM458.75 503H496.75V506.25H458.75ZM493.75 480H496.75V506.25H493.75ZM360 512.5H369.5V518.75H360ZM361.25 549.5H365V587.5H361.25ZM365 570.5H393.75V573.75H365ZM390.75 573.75H393.75V582.5H390.75ZM365 581.25H393.75V587.5H365ZM358.75 586.25H496.25V595H358.75ZM492.5 307H495.5V432H492.5ZM492.5 423.75H538.75V432H492.5ZM538.75 428.75H547.5V435H538.75ZM545 468.75H548.75V530H545ZM547.5 495.5H600V499.5H547.5ZM545 560H550V587.5H545ZM537.5 586.25H600V595H537.5ZM137.5 521.25H163.75V525H137.5ZM198.75 521.25H312.5V525H198.75ZM308.75 490H312.5V525H308.75ZM241.75 525H245.5V560H241.75ZM241.75 590H245.5V605H241.75ZM286 525H289V587H286ZM286 586.5H297.5V620H286ZM286 586.5H319V595H286ZM601.25 307H611.25V495H601.25ZM600 486.25H630V498.75H600ZM615.5 498.75H630V587.5H615.5ZM605.5 552.5H615.5V555H605.5ZM605.5 552.5H608V582.5H605.5ZM605.5 580H615.5V587.5H605.5ZM630 506.25H668.75V509.5H630ZM668.75 441.25H672.5V530H668.75ZM668.75 441.25H677.5V444.5H668.75ZM668.75 562.5H672.5V587.5H668.75ZM600 586.25H690V595H600ZM717.5 307H720.5V444.5H717.5ZM711.75 378.75H718V425H711.75ZM710.5 441.25H720.5V444.5H710.5ZM826.25 307H835V432.5H826.25ZM826.25 423.75H846.25V432.5H826.25ZM836.25 423.75H846.25V587.5H836.25ZM834.4 506.25H850.6V587H834.4ZM845 496.25H850.6V510H845ZM731.25 586.25H932.5V595H731.25ZM710.5 506.25H836.25V509.5H710.5ZM710.5 506.25H737V529.5H710.5ZM733.75 529.5H737V532.5H733.75ZM733.75 562.5H737V587.5H733.75ZM823.75 552.5H836V555.6H823.75ZM823.75 552.5H826.5V587H823.75ZM850 553H862.2V556H850ZM859.7 553H862.2V587H859.7ZM846.25 495.5H921.25V499.5H846.25ZM917.5 495.5H921.25V528.75H917.5ZM917.5 560H921.25V587.5H917.5ZM945.75 307H947.75V400H945.75ZM944.25 398.75H952.5V444.5H944.25ZM944.25 441.25H954.5V444.5H944.25ZM990 441.25H994.5V444.5H990ZM990.75 441.25H994.5V528.75H990.75ZM990.75 562.5H994.5V587.5H990.75ZM1025 441.25H1053.75V444.5H1025ZM968.75 495.5H1053.75V498.75H968.75ZM1053.75 307H1062.5V512.5H1053.75ZM1053.75 511.25H1100V515H1053.75ZM1053.75 511.25H1076.25V521.25H1053.75ZM1076.25 515H1085V587.5H1076.25ZM1063.75 563.75H1076.25V566.25H1063.75ZM1063.75 563.75H1066.25V587.5H1063.75ZM972.5 586.25H1100V595H972.5ZM1100 512.5H1146.25V516.25H1100ZM1142.5 512.5H1146.25V530H1142.5ZM1142.5 562.5H1146.25V587.5H1142.5ZM1100 586.25H1150V595H1100ZM1176.25 307H1185.5V445.5H1176.25ZM1176.25 437H1293.75V445.5H1176.25ZM1285 445.5H1293.75V587.5H1285ZM1193.75 512.5H1285V516.25H1193.75ZM1193.75 512.5H1197.5V518.75H1193.75ZM1193.75 548.75H1197.5V587.5H1193.75ZM1197.5 571.25H1226.25V574.5H1197.5ZM1223.25 574.5H1226.25V582.5H1223.25ZM1197.5 581.25H1226.25V587.5H1197.5ZM1190.5 586.25H1295V595H1190.5ZM1403.75 307H1413V587.5H1403.75ZM1337 437H1403.75V440H1337ZM1397 440H1399.5V480.75H1397ZM1347.5 480.75H1403.75V484.5H1347.5ZM1347.5 480.75H1351.25V517.5H1347.5ZM1347.5 548.75H1351.25V587.5H1347.5ZM1351.25 571.25H1383.75V574.5H1351.25ZM1380.75 574.5H1383.75V582.5H1380.75ZM1351.25 581.25H1383.75V587.5H1351.25ZM1335.5 586.25H1517.5V595H1335.5ZM1413 512.5H1503.75V516.25H1413ZM1500 512.5H1503.75V520H1500ZM1500 548.75H1503.75V587.5H1500ZM1472.5 571.25H1500V574.5H1472.5ZM1472.5 571.25H1475.5V582.5H1472.5ZM1472.5 581.25H1500V587.5H1472.5ZM1477 447.5H1480.5V512.5H1477ZM1477 447.5H1522.5V450.75H1477ZM1513.75 307H1522.5V380H1513.75ZM1518.75 380H1522.5V410H1518.75ZM1518.75 442.5H1522.5V450.75H1518.75ZM1547.5 512.5H1600V515.75H1547.5ZM1558.75 586.25H1600V595H1558.75ZM1630 307H1638.75V455H1630ZM1619.2 445.5H1633.6V560.4H1619.2ZM1633.6 455H1685V458.75H1633.6ZM1681.25 455H1685V492H1681.25ZM1680.4 523.2H1685.2V548H1680.4ZM1682.4 523.2H1685.2V620H1682.4ZM1633.6 545.2H1682.4V547.8H1633.6ZM1633.6 558.6H1685V561H1633.6ZM1546.8 512H1619.2V514.8H1546.8ZM1613 514.8H1615.4V547.4H1613ZM1584.2 545H1615.4V547.4H1584.2ZM1584.2 545H1586.6V586.4H1584.2ZM1591.2 552.4H1633.6V560.4H1591.2ZM1591.2 552.4H1600V616.4H1591.2ZM1558.2 586.2H1591.2V595H1558.2ZM1500 586.25H1518.75V595H1500ZM1786.2 369.6L1792.2 375.8L1734.8 434L1727.5 437L1723.75 437L1723.75 432.2ZM1723.75 431.25H1727.5V529.5H1723.75ZM1722 526.25H1728.75V529.5H1722ZM1763.75 526.25H1782.5V529.5H1763.75ZM1782.5 520H1856.25V529.5H1782.5ZM361.25 582H449V587H361.25ZM548.75 583H616V587H548.75ZM733.75 585H837V587H733.75ZM845 585H921V587H845ZM1193.75 582.5H1286V587H1193.75ZM1347.5 582.5H1404V587H1347.5ZM1412 581.25H1503.75V587H1412ZM1280.6 516.25H1293.75V587H1280.6ZM1399 481H1413V587H1399ZM1404 511.25H1416.9V587H1404ZM126.25 605H145V685.5H126.25ZM145 631.25H206.25V639.5H145ZM242.5 605H245.5V639.5H242.5ZM242.5 623.75H286.25V626.25H242.5ZM242.5 637H289.5V639.5H242.5ZM286 605H297.5V680H286ZM288.5 678H600V687H288.5ZM288.5 678H300V753H288.5ZM294 750H300V760H294ZM145 743.75H297.5V752.5H145ZM300 756.25H317.5V759.5H300ZM348.75 756.25H381.25V759.5H348.75ZM375 736.88H435.5V746.88H375ZM375 736.25H382V762H375ZM432 747.5H435V760H432ZM390 687H393V739.25H390ZM401.25 687H403.75V739.25H401.25ZM475 757H562.5V760H475ZM530 687H533.75V757.5H530ZM593.75 757H600V760H593.75ZM294.5 798.75H297.5V867.5H294.5ZM378.75 796.25H381.75V870H378.75ZM145 862.5H206.25V870H145ZM206.25 867H381.75V870H206.25ZM323.75 862.5H370V870H323.75ZM425 826.25H550V829.25H425ZM447.5 826.25H550V834.5H447.5ZM447.5 826.25H456.25V980H447.5ZM591.25 826.25H600V834.5H591.25ZM456.25 903.75H501.25V912.5H456.25ZM542 903.75H600V912.5H542ZM463.75 912.5H466.25V980H463.75ZM545.75 912.5H549.5V940H545.75ZM545.75 967.5H549.5V980H545.75ZM622.5 664.25H793.75V672H622.5ZM622.5 664.25H628.75V835H622.5ZM622.5 827H793.75V835H622.5ZM782.5 672H788.75V704.5H782.5ZM628.75 697H788.75V704.5H628.75ZM628.75 795H788.75V802.5H628.75ZM782.5 802.5H788.75V827H782.5ZM600 678.75H622.5V687.5H600ZM533.8 686H617.2V690.8H533.8ZM617.2 686H623V760H617.2ZM594 757.2H623V760H594ZM587.2 690.8H590V701.6H587.2ZM587.2 699.2H617.2V701.6H587.2ZM600 826.25H622.5V835H600ZM836.8 664H848V672H836.8ZM951.5 664H991.1V672H951.5ZM841.25 672H848.25V827.5H841.25ZM837 827H991.25V835H837ZM848.25 678.25H957.5V685.75H848.25ZM951.25 672H958V701.25H951.25ZM848.25 753H957.5V760.5H848.25ZM951.25 742H958V768.75H951.25ZM951.25 808.75H958V827.5H951.25ZM1034.25 664.25H1100V672H1034.25ZM1064.25 672H1070.75V688.75H1064.25ZM1064.25 730.75H1070.75V756.25H1064.25ZM1070.75 740H1100V747H1070.75ZM1064.25 797H1070.75V827.5H1064.25ZM1070.75 813.75H1100V820.5H1070.75ZM1034.25 827H1070.75V835H1034.25ZM600 903.75H704.5V912.5H600ZM745.5 903.75H968.75V912.5H745.5ZM1009.25 903.75H1100V912.5H1009.25ZM615.5 912.5H630V980H615.5ZM633 912.5H636.25V980H633ZM605.5 912.5H608V946.25H605.5ZM605.5 943.75H615.5V946.25H605.5ZM673.25 912.5H677.5V935H673.25ZM675 975H677.5V980H675ZM751.75 912.5H755V946.25H751.75ZM751.75 975H755V980H751.75ZM809.75 912H812.75V948.75H809.75ZM809.75 946H822V948.75H809.75ZM821.75 912.5H840V980H821.75ZM840 925H866.25V928.1H840ZM863.1 912H866.25V928.1H863.1ZM866.25 927H907V928.4H866.25ZM1036.25 904H1099.75V918.75H1036.25ZM550 912H616.5V916H550ZM755.6 912H822V916H755.6ZM840 912H907V916H840ZM1337.75 912H1404V916H1337.75ZM1422 912H1488.75V916H1422ZM907 912.5H910.75V948.75H907ZM960 912.5H963.75V935H960ZM1036.25 912.5H1051.25V980H1036.25ZM1012.5 975H1036.25V980H1012.5ZM1100 664.25H1243.75V672H1100ZM1173.75 672H1181.25V827.5H1173.75ZM1100 740H1173.75V747H1100ZM1100 813.75H1173.75V820.5H1100ZM1173.75 827H1243.75V835H1173.75ZM1286.25 664.25H1600V672H1286.25ZM1299.5 672H1307V742H1299.5ZM1299.5 784.5H1307V827.5H1299.5ZM1307 697H1517V704.5H1307ZM1307 795H1517V802.5H1307ZM1516.25 672H1523.75V827.5H1516.25ZM1286.25 827H1600V835H1286.25ZM1130.3 904H1197V918.6H1130.3ZM1197 904H1290.2V912.8H1197ZM1181.25 918.75H1197V980H1181.25ZM1203.75 913H1207V980H1203.75ZM1282 912.5H1287.5V935H1282ZM1285 967.5H1287.5V980H1285ZM1330.5 903.75H1496.25V913H1330.5ZM1333.75 913H1337.5V945H1333.75ZM1403.75 913H1422.5V980H1403.75ZM1488.75 913H1492.5V945H1488.75ZM1537 903.75H1600V912.5H1537ZM1516.25 672H1523.75V827.5H1516.25ZM1592 656.25H1600V842.5H1592ZM1592 590H1600V616.25H1592ZM1593 882H1600V941.25H1593ZM1600 669.5H1632V673H1600ZM1663.75 669.5H1690.5V673H1663.75ZM1687 669.5H1690.5V745H1687ZM1600 669.5H1603.75V745H1600ZM1592.5 743.75H1875V753.75H1592.5ZM1600 740H1690.5V745H1600ZM1600 752.5H1690.5V757.5H1600ZM1655 728.75H1687.5V732H1655ZM1655 728.75H1658V741.25H1655ZM1682 590H1685V626.25H1682ZM1600 753.75H1603.75V827.5H1600ZM1600 824.5H1632V829.2H1600ZM1663.5 824.5H1690.5V829.2H1663.5ZM1593.7 757H1604.2V827H1593.7ZM1592 672H1603.2V745H1592ZM1687 753.75H1690.5V827.5H1687ZM1655 753.75H1658V769.25H1655ZM1655 766.25H1687.5V769.25H1655ZM1687.5 867.5H1690.5V980H1687.5ZM1593 937.5H1637.5V941.25H1593ZM1630 941.25H1637.5V980H1630ZM1637.5 951.25H1687.5V954.25H1637.5ZM1774.2 964.2H1782V967H1774.2ZM1781.7 964.2H1856V972.5H1781.7ZM1690.5 963.75H1697.5V966.75H1690.5ZM1733.75 963.75H1738.75V966.75H1733.75ZM1537 903.75H1593V912.5H1537ZM145 983H253.75V986.5H145ZM145 983H206.25V991.75H145ZM288 983H300V986.25H288ZM291.25 983H295V1041.25H291.25ZM335 983H369.5V986.25H335ZM291.25 1040L295 1040L295 1041.75L215.5 1128.25L208 1122L265.5 1063L270 1067L291.25 1043ZM368.75 981.25H448.75V990H368.75ZM368.75 981.25H378V1192.5H368.75ZM456.25 986.25H489.5V989.5H456.25ZM486.25 989.5H489.5V1012.5H486.25ZM487 1057.5H490.5V1192.5H487ZM545.75 970H549.5V1060.5H545.75ZM526.25 1057H549.5V1060.5H526.25ZM578.75 1057H600V1060.5H578.75ZM549.5 999.5H616.25V1003H549.5ZM615.5 912.5H630V1012.5H615.5ZM598.1 1003.5H606.9V1192.5H598.1ZM598.1 1003.5H629.75V1012.5H598.1ZM633 912.5H636.25V1010H633ZM633 1008.75H677.5V1012H633ZM675 975H677.5V1012H675ZM605.5 912.5H608V946.25H605.5ZM605.5 943.75H615.5V946.25H605.5ZM673.25 912.5H677.5V935.5H673.25ZM717.5 1010H826.25V1013.75H717.5ZM717.5 1010H721.25V1092.5H717.5ZM721.25 1032.5H725V1078.75H721.25ZM717.5 1126.25H721.25V1192.5H717.5ZM721.25 1133.75H725V1192.5H721.25ZM751.75 912.5H755V946.25H751.75ZM751.75 980H755V1010H751.75ZM821.75 912.5H840V1012.5H821.75ZM826.25 1012.5H835.5V1192.5H826.25ZM835.5 1010H945V1013.75H835.5ZM907 912.5H910.75V948.75H907ZM907 980H910.75V1010H907ZM960 912.5H963.75V935.5H960ZM944.5 987H972.5V990H944.5ZM944.5 987H947.5V1080H944.5ZM944.5 1077H972.5V1080H944.5ZM1011.25 1077H1036.25V1080H1011.25ZM1036.25 912.5H1051.25V1185H1036.25ZM1012.5 975H1036.25V978H1012.5ZM1012.5 975H1015.5V987.5H1012.5ZM1012.5 985.5H1036.25V988.75H1012.5ZM1092 980H1095V1185H1092ZM1035 1184.5H1063.75V1215.75H1035ZM1023.25 1192H1063.75V1212H1023.25ZM1092 980L1100 974.5L1100 978L1095 981.5ZM1181.25 918.75H1197V1185H1181.25ZM1203.75 912.5H1207V990H1203.75ZM1197 989.5H1287.5V992.5H1197ZM1283.75 918.75H1287.5V935.5H1283.75ZM1284.5 967.5H1287.5V992.5H1284.5ZM1333.75 912.5H1337.5V945H1333.75ZM1333.75 976.25H1337.5V1060H1333.75ZM1337.5 1008.75H1341.25V1012.5H1337.5ZM1305 1057H1337.5V1060H1305ZM1305 1057H1308V1063.75H1305ZM1305 1097.5H1308.75V1192.5H1305ZM1403.75 912.5H1422.5V1012.5H1403.75ZM1410 1012.5H1418V1192.5H1410ZM1372 1008H1455V1012.5H1372ZM1392.5 977.5H1403.75V980H1392.5ZM1392.5 977.5H1395.5V1008H1392.5ZM1422.5 977.5H1433.75V980H1422.5ZM1431.25 977.5H1433.75V1008H1431.25ZM1385 1057H1442.5V1060.5H1385ZM1488.75 912.5H1492.5V945H1488.75ZM1489.5 976.25H1492.5V1060H1489.5ZM1489.5 988.25H1516.25V992H1489.5ZM1486.25 1008.75H1489.5V1012.5H1486.25ZM1489.5 1056.25H1522V1060H1489.5ZM1518.75 1056.25H1522V1063.75H1518.75ZM1518.75 1096.25H1522.5V1192.5H1518.75ZM1559.5 989.5H1600V993H1559.5ZM1559.5 989.5H1562.5V1016.25H1559.5ZM1168.75 1184.5H1197.5V1215.75H1168.75ZM1168.75 1192H1209.5V1212H1168.75ZM1138.75 1002.5H1141.75V1184.5H1138.75ZM1100 977L1108 972L1141.75 1001.25L1141.75 1005.5L1107.5 976L1100 980.5ZM1625.75 942.1H1636V1053.2H1625.75ZM1628.6 1053H1636V1192.5H1628.6ZM1636 942H1639V1192.5H1636ZM1591.8 937.6H1690.5V942.1H1591.8ZM1591.8 942.1H1636V947.2H1591.8ZM1591.8 912H1600V945H1591.8ZM1584.4 912H1586.9V954.4H1584.4ZM1584.4 951.8H1621.8V954.4H1584.4ZM1619 951.8H1621.8V990.3H1619ZM1560 989.5H1625V993H1560ZM1560 989.5H1562.5V1016.25H1560ZM1500 989.5H1516.25V993H1500ZM1637.5 951.25H1687.5V954.5H1637.5ZM1687.5 905H1690.5V976.25H1687.5ZM1687.5 1006.25H1691.25V1043H1687.5ZM1638.75 1039.5H1691.25V1043H1638.75ZM1690.5 963.75H1697.5V966.75H1690.5ZM1733.75 963.75H1738.75V966.75H1733.75ZM1734.5 966.75H1737.5V1071.25H1734.5ZM1734.5 1070L1738 1068.75L1797.5 1125L1790 1132.5L1732.5 1076.25ZM1702 287L1714.1 287L1714.1 283.2L1733.9 283.2L1749.3 299.15L1732.25 315.65L1723.45 307.4L1702 307.4ZM1798.8 348.65L1815.3 364.9L1798.6 381.65L1782.3 365.4ZM1848.1 431.3L1864.9 414.5L1879.9 428.9L1879.9 449.9L1876 449.9L1876 459.8L1855.7 459.8L1855.7 439.1ZM1702 1192.1L1723.45 1192.1L1732.25 1183.85L1749.3 1200.35L1733.9 1216.3L1714.1 1216.3L1714.1 1212.5L1702 1212.5ZM298 1212.5L285.9 1212.5L285.9 1216.3L266.1 1216.3L250.7 1200.35L267.75 1183.85L276.55 1192.1L298 1192.1ZM1782.3 1134.1L1798.6 1117.85L1815.3 1134.6L1798.8 1150.85ZM201.2 1150.85L184.7 1134.6L201.4 1117.85L217.7 1134.1ZM1855.7 1060.4L1855.7 1039.7L1876 1039.7L1876 1049.6L1879.9 1049.6L1879.9 1070.6L1864.9 1085L1848.1 1068.2ZM151.9 1068.2L135.1 1085L120.1 1070.6L120.1 1049.6L124 1049.6L124 1039.7L144.3 1039.7L144.3 1060.4ZM1855.7 498.75H1876V542.25H1855.7ZM1876 511.25H1880V532.75H1876ZM1855.7 611.5H1876V655H1855.7ZM1876 624H1880V645.5H1876ZM1855.7 726.5H1876V770H1855.7ZM1876 739H1880V760.5H1876ZM1855.7 841H1876V884.5H1855.7ZM1876 853.5H1880V875H1876ZM1855.7 956H1876V999.5H1855.7ZM1876 968.5H1880V990H1876ZM124.2 841H144.6V885.5H124.2ZM120 849.5H124.2V874.5H120ZM124.2 956H144.6V1000.5H124.2ZM120 964.5H124.2V989.5H120ZM120 734H144.8V757.5H120ZM124.2 757.5H144.8V772H124.2ZM120 684.5H144.6V695H120Z" fill="#000"/>
<text x="183.65" y="390" fill="#2b2b2b">58.7</text>
<text x="427.65" y="387" fill="#2b2b2b">36.5</text>
<text x="759.4" y="387" fill="#2b2b2b">38.3</text>
<text x="874.65" y="387" fill="#2b2b2b">38.3</text>
<text x="1103.65" y="387" fill="#2b2b2b">29.3</text>
<text x="1244.9" y="387" fill="#2b2b2b">28.8</text>
<text x="1562.65" y="387" fill="#2b2b2b">36.7</text>
<text x="1675.9" y="387" fill="#2b2b2b">58.8</text>
<text x="303.15" y="1124.5" fill="#2b2b2b">88.8</text>
<text x="419.4" y="1124.5" fill="#2b2b2b">36.4</text>
<text x="653.9" y="1124.5" fill="#2b2b2b">37</text>
<text x="878.15" y="1124.5" fill="#2b2b2b">35.7</text>
<text x="1345.65" y="1124.5" fill="#2b2b2b" textLength="17.6">37.1</text>
<text x="1565.15" y="1124.5" fill="#2b2b2b">36.2</text>
<text x="1686.15" y="1124.5" fill="#2b2b2b">58.4</text>
<path d="M1594 753H1874.4V1064L1748 1200.4L1738.7 1208H1636V942.1H1594Z" fill="#ff5430" fill-opacity="0.52"/>
</svg>
</body></html>
